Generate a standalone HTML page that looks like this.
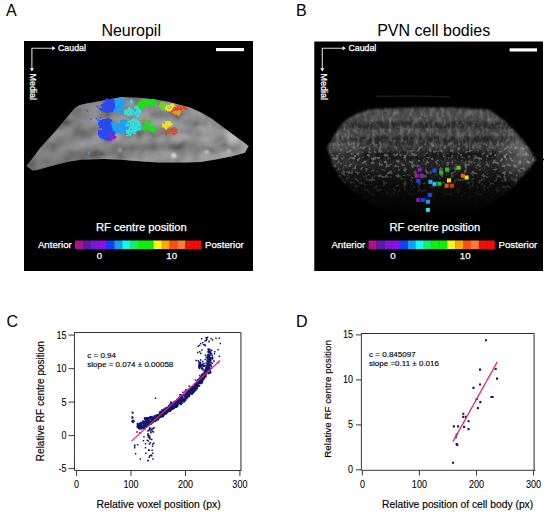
<!DOCTYPE html>
<html><head><meta charset="utf-8"><style>
html,body{margin:0;padding:0;background:#fff;}
body{width:550px;height:517px;overflow:hidden;}
svg{display:block;font-family:"Liberation Sans", sans-serif;}
.pl text{stroke:#000;stroke-width:0.15px;}
text[fill="#fff"]{stroke:#fff;stroke-width:0.25px;}
</style></head><body>
<svg width="550" height="517" viewBox="0 0 550 517">
<defs><clipPath id="cA"><polygon points="26.6,166.1 32.7,170.5 37.1,170.0 53.1,165.4 67.6,161.7 82.2,159.5 104.0,159.1 118.9,159.5 136.4,161.0 158.2,162.5 176.0,162.6 185.3,162.6 200.5,161.9 215.8,159.6 231.0,156.5 244.8,152.7 248.6,146.0 242.0,141.0 235.7,136.6 223.5,127.5 211.2,118.3 200.5,112.2 190.0,107.5 168.2,101.7 153.6,99.3 139.1,97.8 121.6,96.9 98.2,101.6 86.5,103.4 79.3,105.3 74.9,108.2 69.1,114.7 54.5,132.2 40.0,148.2"/></clipPath><clipPath id="cB"><polygon points="327.0,148.0 335.0,134.0 342.0,123.0 354.0,115.0 370.0,109.0 410.0,107.0 450.0,107.0 489.0,109.5 506.0,122.0 522.0,139.0 536.5,159.5 522.0,177.0 510.0,191.0 496.6,200.0 478.0,211.5 460.0,214.0 430.0,215.0 396.0,212.0 376.7,207.6 363.6,198.9 341.8,181.4 332.0,163.0"/></clipPath><filter id="bl3" x="-20%" y="-20%" width="140%" height="140%"><feGaussianBlur stdDeviation="3"/></filter><filter id="bl1" x="-50%" y="-50%" width="200%" height="200%"><feGaussianBlur stdDeviation="1.2"/></filter><filter id="bl2" x="-10%" y="-10%" width="120%" height="120%"><feGaussianBlur stdDeviation="0.9"/></filter><mask id="mB" maskUnits="userSpaceOnUse" x="314" y="41" width="229" height="230"><polygon points="327.0,148.0 335.0,134.0 342.0,123.0 354.0,115.0 370.0,109.0 410.0,107.0 450.0,107.0 489.0,109.5 506.0,122.0 522.0,139.0 536.5,159.5 522.0,177.0 510.0,191.0 496.6,200.0 478.0,211.5 460.0,214.0 430.0,215.0 396.0,212.0 376.7,207.6 363.6,198.9 341.8,181.4 332.0,163.0" fill="#fff" filter="url(#bl2)"/></mask><filter id="nA" x="0" y="0" width="100%" height="100%"><feTurbulence type="fractalNoise" baseFrequency="0.07 0.1" numOctaves="2" seed="3"/><feColorMatrix type="matrix" values="1.6 0 0 0 -0.32  1.6 0 0 0 -0.32  1.6 0 0 0 -0.32  0 0 0 0 1"/><feGaussianBlur stdDeviation="0.8"/></filter><filter id="nB" x="0" y="0" width="100%" height="100%"><feTurbulence type="fractalNoise" baseFrequency="0.25 0.12" numOctaves="2" seed="5"/><feColorMatrix type="matrix" values="0 0 0 0 1  0 0 0 0 1  0 0 0 0 1  2.6 0 0 0 -1.1"/></filter><filter id="nC" x="0" y="0" width="100%" height="100%"><feTurbulence type="fractalNoise" baseFrequency="0.28" numOctaves="2" seed="11"/><feColorMatrix type="matrix" values="0 0 0 0 1  0 0 0 0 1  0 0 0 0 1  6 0 0 0 -3.2"/><feGaussianBlur stdDeviation="0.7"/></filter><linearGradient id="gAx" x1="26" y1="0" x2="250" y2="0" gradientUnits="userSpaceOnUse"><stop offset="0" stop-color="#000" stop-opacity="0.18"/><stop offset="0.35" stop-color="#000" stop-opacity="0.05"/><stop offset="0.8" stop-color="#000" stop-opacity="0"/><stop offset="0.92" stop-color="#fff" stop-opacity="0.06"/></linearGradient><linearGradient id="gA" x1="0" y1="96" x2="0" y2="172" gradientUnits="userSpaceOnUse">
<stop offset="0" stop-color="#8a8a8a"/><stop offset="0.2" stop-color="#7e7e7e"/><stop offset="0.3" stop-color="#9a9a9a"/><stop offset="0.42" stop-color="#858585"/><stop offset="0.55" stop-color="#7a7a7a"/><stop offset="0.63" stop-color="#999"/><stop offset="0.75" stop-color="#828282"/><stop offset="0.88" stop-color="#8e8e8e"/><stop offset="1" stop-color="#909090"/></linearGradient><linearGradient id="gB" x1="0" y1="106" x2="0" y2="216" gradientUnits="userSpaceOnUse"><stop offset="0.000" stop-color="#1c1c1c"/><stop offset="0.027" stop-color="#3a3a3a"/><stop offset="0.064" stop-color="#484848"/><stop offset="0.127" stop-color="#454545"/><stop offset="0.155" stop-color="#2c2c2c"/><stop offset="0.191" stop-color="#2a2a2a"/><stop offset="0.218" stop-color="#424242"/><stop offset="0.264" stop-color="#404040"/><stop offset="0.291" stop-color="#262626"/><stop offset="0.327" stop-color="#2a2a2a"/><stop offset="0.364" stop-color="#363636"/><stop offset="0.400" stop-color="#2c2c2c"/><stop offset="0.436" stop-color="#161616"/><stop offset="0.473" stop-color="#1a1a1a"/><stop offset="0.518" stop-color="#262626"/><stop offset="0.582" stop-color="#1a1a1a"/><stop offset="0.718" stop-color="#0c0c0c"/><stop offset="0.855" stop-color="#060606"/><stop offset="1.000" stop-color="#020202"/></linearGradient><linearGradient id="gFade" x1="0" y1="106" x2="0" y2="216" gradientUnits="userSpaceOnUse"><stop offset="0" stop-color="#fff"/><stop offset="0.4" stop-color="#fff"/><stop offset="0.65" stop-color="#777"/><stop offset="1" stop-color="#000"/></linearGradient>
<mask id="mFade" maskUnits="userSpaceOnUse" x="314" y="95" width="229" height="125"><rect x="314" y="95" width="229" height="125" fill="url(#gFade)"/></mask>
<linearGradient id="gUp" x1="0" y1="106" x2="0" y2="216" gradientUnits="userSpaceOnUse"><stop offset="0" stop-color="#fff"/><stop offset="0.35" stop-color="#fff"/><stop offset="0.5" stop-color="#444"/><stop offset="0.7" stop-color="#000"/></linearGradient>
<mask id="mUp" maskUnits="userSpaceOnUse" x="314" y="95" width="229" height="125"><rect x="314" y="95" width="229" height="125" fill="url(#gUp)"/></mask>
<linearGradient id="gCell" x1="0" y1="106" x2="0" y2="216" gradientUnits="userSpaceOnUse"><stop offset="0" stop-color="#333"/><stop offset="0.3" stop-color="#666"/><stop offset="0.45" stop-color="#fff"/><stop offset="0.63" stop-color="#ccc"/><stop offset="0.78" stop-color="#333"/><stop offset="0.9" stop-color="#000"/></linearGradient>
<mask id="mCell" maskUnits="userSpaceOnUse" x="314" y="95" width="229" height="125"><rect x="314" y="95" width="229" height="125" fill="url(#gCell)"/></mask><radialGradient id="gBr" cx="522" cy="155" r="30" gradientUnits="userSpaceOnUse"><stop offset="0" stop-color="#fff" stop-opacity="0.28"/><stop offset="0.6" stop-color="#fff" stop-opacity="0.12"/><stop offset="1" stop-color="#fff" stop-opacity="0"/></radialGradient><radialGradient id="gBl" cx="342" cy="150" r="26" gradientUnits="userSpaceOnUse"><stop offset="0" stop-color="#fff" stop-opacity="0.12"/><stop offset="1" stop-color="#fff" stop-opacity="0"/></radialGradient></defs><rect x="24" y="41" width="229" height="230" fill="#000"/><rect x="314.3" y="41.5" width="228.7" height="229.5" fill="#000"/><g clip-path="url(#cA)"><rect x="24" y="95" width="229" height="80" fill="#777"/>
<g filter="url(#bl3)" fill="none" stroke-linecap="round">
<path d="M74 108 Q100 103 130 106 T200 110" stroke="#8a8a8a" stroke-width="4"/>
<path d="M36 152 Q58 128 90 122 T160 121 T236 132" stroke="#a8a8a8" stroke-width="4"/>
<path d="M60 136 Q80 130 100 131" stroke="#5e5e5e" stroke-width="4"/>
<path d="M120 131 Q170 130 230 137" stroke="#686868" stroke-width="4"/>
<path d="M40 164 Q66 143 100 139 T170 138 T242 143" stroke="#a4a4a4" stroke-width="4"/>
<path d="M50 170 Q100 151 140 148 T243 150" stroke="#565656" stroke-width="5"/>
<path d="M80 167 Q120 159 170 159 T244 154" stroke="#a4a4a4" stroke-width="4"/>
<path d="M226 134 L246 147" stroke="#b0b0b0" stroke-width="5"/>
</g>
<circle cx="174" cy="155.5" r="2.5" fill="#f4f4f4" filter="url(#bl1)"/>
<circle cx="207" cy="152" r="2" fill="#c8c8c8" filter="url(#bl1)"/>
<circle cx="229" cy="151" r="2" fill="#c0c0c0" filter="url(#bl1)"/>
<circle cx="120" cy="150" r="2" fill="#b0b0b0" filter="url(#bl1)"/>
<rect x="24" y="95" width="229" height="80" fill="#fff" filter="url(#nA)" opacity="0.28"/><rect x="24" y="95" width="229" height="80" fill="url(#gAx)"/></g><path d="M100 105h1.3v1.3h-1.3zM100 108h1.3v1.3h-1.3zM100 109h1.3v1.3h-1.3zM101 104h1.3v1.3h-1.3zM101 105h1.3v1.3h-1.3zM101 108h1.3v1.3h-1.3zM101 109h1.3v1.3h-1.3zM101 110h1.3v1.3h-1.3zM102 104h1.3v1.3h-1.3zM102 105h1.3v1.3h-1.3zM102 106h1.3v1.3h-1.3zM102 107h1.3v1.3h-1.3zM102 108h1.3v1.3h-1.3zM102 109h1.3v1.3h-1.3zM102 110h1.3v1.3h-1.3zM103 102h1.3v1.3h-1.3zM103 103h1.3v1.3h-1.3zM103 104h1.3v1.3h-1.3zM103 105h1.3v1.3h-1.3zM103 106h1.3v1.3h-1.3zM103 107h1.3v1.3h-1.3zM103 109h1.3v1.3h-1.3zM103 110h1.3v1.3h-1.3zM103 111h1.3v1.3h-1.3zM104 102h1.3v1.3h-1.3zM104 103h1.3v1.3h-1.3zM104 104h1.3v1.3h-1.3zM104 105h1.3v1.3h-1.3zM104 106h1.3v1.3h-1.3zM104 107h1.3v1.3h-1.3zM104 108h1.3v1.3h-1.3zM104 109h1.3v1.3h-1.3zM104 110h1.3v1.3h-1.3zM104 111h1.3v1.3h-1.3zM105 99h1.3v1.3h-1.3zM105 100h1.3v1.3h-1.3zM105 101h1.3v1.3h-1.3zM105 102h1.3v1.3h-1.3zM105 103h1.3v1.3h-1.3zM105 104h1.3v1.3h-1.3zM105 105h1.3v1.3h-1.3zM105 106h1.3v1.3h-1.3zM105 107h1.3v1.3h-1.3zM105 108h1.3v1.3h-1.3zM105 109h1.3v1.3h-1.3zM105 110h1.3v1.3h-1.3zM105 111h1.3v1.3h-1.3zM106 98h1.3v1.3h-1.3zM106 99h1.3v1.3h-1.3zM106 100h1.3v1.3h-1.3zM106 101h1.3v1.3h-1.3zM106 102h1.3v1.3h-1.3zM106 103h1.3v1.3h-1.3zM106 104h1.3v1.3h-1.3zM106 105h1.3v1.3h-1.3zM106 106h1.3v1.3h-1.3zM106 107h1.3v1.3h-1.3zM106 108h1.3v1.3h-1.3zM106 109h1.3v1.3h-1.3zM106 110h1.3v1.3h-1.3zM106 111h1.3v1.3h-1.3zM107 99h1.3v1.3h-1.3zM107 100h1.3v1.3h-1.3zM107 101h1.3v1.3h-1.3zM107 102h1.3v1.3h-1.3zM107 103h1.3v1.3h-1.3zM107 104h1.3v1.3h-1.3zM107 105h1.3v1.3h-1.3zM107 106h1.3v1.3h-1.3zM107 107h1.3v1.3h-1.3zM107 108h1.3v1.3h-1.3zM107 109h1.3v1.3h-1.3zM107 110h1.3v1.3h-1.3zM107 111h1.3v1.3h-1.3zM107 112h1.3v1.3h-1.3zM108 99h1.3v1.3h-1.3zM108 100h1.3v1.3h-1.3zM108 101h1.3v1.3h-1.3zM108 102h1.3v1.3h-1.3zM108 103h1.3v1.3h-1.3zM108 104h1.3v1.3h-1.3zM108 105h1.3v1.3h-1.3zM108 106h1.3v1.3h-1.3zM108 107h1.3v1.3h-1.3zM108 108h1.3v1.3h-1.3zM108 109h1.3v1.3h-1.3zM108 110h1.3v1.3h-1.3zM108 111h1.3v1.3h-1.3zM109 99h1.3v1.3h-1.3zM109 100h1.3v1.3h-1.3zM109 101h1.3v1.3h-1.3zM109 102h1.3v1.3h-1.3zM109 103h1.3v1.3h-1.3zM109 104h1.3v1.3h-1.3zM109 105h1.3v1.3h-1.3zM109 106h1.3v1.3h-1.3zM109 107h1.3v1.3h-1.3zM109 108h1.3v1.3h-1.3zM109 109h1.3v1.3h-1.3zM109 110h1.3v1.3h-1.3zM109 111h1.3v1.3h-1.3zM110 99h1.3v1.3h-1.3zM110 100h1.3v1.3h-1.3zM110 101h1.3v1.3h-1.3zM110 102h1.3v1.3h-1.3zM110 103h1.3v1.3h-1.3zM110 104h1.3v1.3h-1.3zM110 105h1.3v1.3h-1.3zM110 106h1.3v1.3h-1.3zM110 107h1.3v1.3h-1.3zM110 108h1.3v1.3h-1.3zM110 109h1.3v1.3h-1.3zM110 110h1.3v1.3h-1.3zM110 111h1.3v1.3h-1.3zM111 99h1.3v1.3h-1.3zM111 100h1.3v1.3h-1.3zM111 101h1.3v1.3h-1.3zM111 102h1.3v1.3h-1.3zM111 103h1.3v1.3h-1.3zM111 104h1.3v1.3h-1.3zM111 105h1.3v1.3h-1.3zM111 106h1.3v1.3h-1.3zM111 107h1.3v1.3h-1.3zM111 108h1.3v1.3h-1.3zM111 109h1.3v1.3h-1.3zM111 110h1.3v1.3h-1.3zM111 111h1.3v1.3h-1.3zM112 99h1.3v1.3h-1.3zM112 100h1.3v1.3h-1.3zM112 101h1.3v1.3h-1.3zM112 102h1.3v1.3h-1.3zM112 103h1.3v1.3h-1.3zM112 104h1.3v1.3h-1.3zM112 105h1.3v1.3h-1.3zM112 106h1.3v1.3h-1.3zM112 107h1.3v1.3h-1.3zM112 108h1.3v1.3h-1.3zM112 109h1.3v1.3h-1.3zM112 110h1.3v1.3h-1.3zM112 111h1.3v1.3h-1.3zM113 100h1.3v1.3h-1.3zM113 101h1.3v1.3h-1.3zM113 102h1.3v1.3h-1.3zM113 103h1.3v1.3h-1.3zM113 104h1.3v1.3h-1.3zM113 105h1.3v1.3h-1.3zM113 106h1.3v1.3h-1.3zM113 107h1.3v1.3h-1.3zM113 108h1.3v1.3h-1.3zM113 109h1.3v1.3h-1.3zM114 100h1.3v1.3h-1.3zM114 101h1.3v1.3h-1.3zM114 102h1.3v1.3h-1.3zM114 103h1.3v1.3h-1.3zM114 104h1.3v1.3h-1.3zM114 105h1.3v1.3h-1.3zM114 106h1.3v1.3h-1.3zM114 107h1.3v1.3h-1.3zM114 108h1.3v1.3h-1.3zM114 109h1.3v1.3h-1.3zM114 110h1.3v1.3h-1.3zM115 100h1.3v1.3h-1.3zM115 101h1.3v1.3h-1.3zM115 102h1.3v1.3h-1.3zM115 103h1.3v1.3h-1.3zM115 104h1.3v1.3h-1.3zM115 105h1.3v1.3h-1.3zM115 106h1.3v1.3h-1.3zM115 107h1.3v1.3h-1.3zM115 108h1.3v1.3h-1.3zM115 109h1.3v1.3h-1.3zM116 101h1.3v1.3h-1.3zM116 102h1.3v1.3h-1.3zM116 103h1.3v1.3h-1.3zM116 104h1.3v1.3h-1.3zM116 105h1.3v1.3h-1.3zM116 106h1.3v1.3h-1.3zM116 107h1.3v1.3h-1.3zM116 108h1.3v1.3h-1.3zM117 102h1.3v1.3h-1.3zM117 103h1.3v1.3h-1.3zM117 104h1.3v1.3h-1.3zM117 105h1.3v1.3h-1.3zM117 106h1.3v1.3h-1.3zM118 105h1.3v1.3h-1.3zM118 106h1.3v1.3h-1.3z" fill="#2848f0"/><rect x="96.7" y="105.7" width="1.6" height="1.6" fill="#2848f0"/><rect x="98.7" y="107.7" width="1.6" height="1.6" fill="#2848f0"/><path d="M114 101h1.3v1.3h-1.3zM114 109h1.3v1.3h-1.3zM114 110h1.3v1.3h-1.3zM115 98h1.3v1.3h-1.3zM115 100h1.3v1.3h-1.3zM115 101h1.3v1.3h-1.3zM115 102h1.3v1.3h-1.3zM115 103h1.3v1.3h-1.3zM115 104h1.3v1.3h-1.3zM115 105h1.3v1.3h-1.3zM115 106h1.3v1.3h-1.3zM115 108h1.3v1.3h-1.3zM115 109h1.3v1.3h-1.3zM115 110h1.3v1.3h-1.3zM115 111h1.3v1.3h-1.3zM116 98h1.3v1.3h-1.3zM116 99h1.3v1.3h-1.3zM116 100h1.3v1.3h-1.3zM116 101h1.3v1.3h-1.3zM116 102h1.3v1.3h-1.3zM116 103h1.3v1.3h-1.3zM116 104h1.3v1.3h-1.3zM116 105h1.3v1.3h-1.3zM116 106h1.3v1.3h-1.3zM116 107h1.3v1.3h-1.3zM116 108h1.3v1.3h-1.3zM116 109h1.3v1.3h-1.3zM116 110h1.3v1.3h-1.3zM116 111h1.3v1.3h-1.3zM116 112h1.3v1.3h-1.3zM117 98h1.3v1.3h-1.3zM117 99h1.3v1.3h-1.3zM117 102h1.3v1.3h-1.3zM117 103h1.3v1.3h-1.3zM117 104h1.3v1.3h-1.3zM117 105h1.3v1.3h-1.3zM117 106h1.3v1.3h-1.3zM117 108h1.3v1.3h-1.3zM117 109h1.3v1.3h-1.3zM117 110h1.3v1.3h-1.3zM117 111h1.3v1.3h-1.3zM117 112h1.3v1.3h-1.3zM118 100h1.3v1.3h-1.3zM118 102h1.3v1.3h-1.3zM118 103h1.3v1.3h-1.3zM118 104h1.3v1.3h-1.3zM118 105h1.3v1.3h-1.3zM118 108h1.3v1.3h-1.3zM118 109h1.3v1.3h-1.3zM118 110h1.3v1.3h-1.3zM118 111h1.3v1.3h-1.3zM118 112h1.3v1.3h-1.3zM119 99h1.3v1.3h-1.3zM119 100h1.3v1.3h-1.3zM119 102h1.3v1.3h-1.3zM119 103h1.3v1.3h-1.3zM119 104h1.3v1.3h-1.3zM119 105h1.3v1.3h-1.3zM119 106h1.3v1.3h-1.3zM119 107h1.3v1.3h-1.3zM119 108h1.3v1.3h-1.3zM119 109h1.3v1.3h-1.3zM119 110h1.3v1.3h-1.3zM119 111h1.3v1.3h-1.3zM119 112h1.3v1.3h-1.3zM120 98h1.3v1.3h-1.3zM120 99h1.3v1.3h-1.3zM120 100h1.3v1.3h-1.3zM120 101h1.3v1.3h-1.3zM120 102h1.3v1.3h-1.3zM120 103h1.3v1.3h-1.3zM120 104h1.3v1.3h-1.3zM120 105h1.3v1.3h-1.3zM120 106h1.3v1.3h-1.3zM120 107h1.3v1.3h-1.3zM120 109h1.3v1.3h-1.3zM120 110h1.3v1.3h-1.3zM120 111h1.3v1.3h-1.3zM120 112h1.3v1.3h-1.3zM121 98h1.3v1.3h-1.3zM121 100h1.3v1.3h-1.3zM121 101h1.3v1.3h-1.3zM121 102h1.3v1.3h-1.3zM121 103h1.3v1.3h-1.3zM121 104h1.3v1.3h-1.3zM121 106h1.3v1.3h-1.3zM121 107h1.3v1.3h-1.3zM121 108h1.3v1.3h-1.3zM121 109h1.3v1.3h-1.3zM121 110h1.3v1.3h-1.3zM121 111h1.3v1.3h-1.3zM122 98h1.3v1.3h-1.3zM122 100h1.3v1.3h-1.3zM122 101h1.3v1.3h-1.3zM122 102h1.3v1.3h-1.3zM122 103h1.3v1.3h-1.3zM122 104h1.3v1.3h-1.3zM122 105h1.3v1.3h-1.3zM122 106h1.3v1.3h-1.3zM122 107h1.3v1.3h-1.3zM122 109h1.3v1.3h-1.3zM122 110h1.3v1.3h-1.3zM122 111h1.3v1.3h-1.3zM123 99h1.3v1.3h-1.3zM123 100h1.3v1.3h-1.3zM123 101h1.3v1.3h-1.3zM123 102h1.3v1.3h-1.3zM123 103h1.3v1.3h-1.3zM123 104h1.3v1.3h-1.3zM123 105h1.3v1.3h-1.3zM123 107h1.3v1.3h-1.3zM123 108h1.3v1.3h-1.3zM123 110h1.3v1.3h-1.3zM124 101h1.3v1.3h-1.3zM124 102h1.3v1.3h-1.3zM124 103h1.3v1.3h-1.3zM124 104h1.3v1.3h-1.3z" fill="#20a0f0"/><path d="M124 110h1.3v1.3h-1.3zM124 111h1.3v1.3h-1.3zM124 112h1.3v1.3h-1.3zM124 113h1.3v1.3h-1.3zM125 109h1.3v1.3h-1.3zM125 110h1.3v1.3h-1.3zM125 111h1.3v1.3h-1.3zM125 112h1.3v1.3h-1.3zM125 113h1.3v1.3h-1.3zM125 114h1.3v1.3h-1.3zM126 109h1.3v1.3h-1.3zM126 111h1.3v1.3h-1.3zM126 112h1.3v1.3h-1.3zM126 113h1.3v1.3h-1.3zM126 114h1.3v1.3h-1.3zM127 110h1.3v1.3h-1.3zM127 111h1.3v1.3h-1.3zM127 112h1.3v1.3h-1.3zM127 113h1.3v1.3h-1.3zM127 114h1.3v1.3h-1.3zM127 115h1.3v1.3h-1.3zM128 107h1.3v1.3h-1.3zM128 108h1.3v1.3h-1.3zM128 109h1.3v1.3h-1.3zM128 110h1.3v1.3h-1.3zM128 111h1.3v1.3h-1.3zM128 113h1.3v1.3h-1.3zM128 114h1.3v1.3h-1.3zM128 115h1.3v1.3h-1.3zM129 107h1.3v1.3h-1.3zM129 108h1.3v1.3h-1.3zM129 109h1.3v1.3h-1.3zM129 110h1.3v1.3h-1.3zM129 111h1.3v1.3h-1.3zM129 112h1.3v1.3h-1.3zM129 113h1.3v1.3h-1.3zM129 114h1.3v1.3h-1.3zM129 115h1.3v1.3h-1.3zM130 109h1.3v1.3h-1.3zM130 110h1.3v1.3h-1.3zM130 111h1.3v1.3h-1.3zM130 112h1.3v1.3h-1.3zM130 113h1.3v1.3h-1.3zM130 114h1.3v1.3h-1.3zM131 108h1.3v1.3h-1.3zM131 109h1.3v1.3h-1.3zM131 110h1.3v1.3h-1.3zM131 111h1.3v1.3h-1.3zM131 112h1.3v1.3h-1.3zM131 113h1.3v1.3h-1.3zM131 114h1.3v1.3h-1.3zM131 115h1.3v1.3h-1.3zM132 110h1.3v1.3h-1.3zM132 111h1.3v1.3h-1.3zM132 113h1.3v1.3h-1.3zM132 114h1.3v1.3h-1.3zM133 111h1.3v1.3h-1.3zM133 112h1.3v1.3h-1.3zM133 114h1.3v1.3h-1.3zM134 107h1.3v1.3h-1.3zM134 108h1.3v1.3h-1.3zM134 112h1.3v1.3h-1.3zM134 113h1.3v1.3h-1.3zM135 106h1.3v1.3h-1.3zM135 107h1.3v1.3h-1.3zM135 112h1.3v1.3h-1.3zM135 113h1.3v1.3h-1.3zM135 114h1.3v1.3h-1.3zM136 106h1.3v1.3h-1.3zM136 107h1.3v1.3h-1.3zM136 108h1.3v1.3h-1.3zM136 110h1.3v1.3h-1.3zM136 111h1.3v1.3h-1.3zM136 114h1.3v1.3h-1.3zM136 116h1.3v1.3h-1.3zM137 105h1.3v1.3h-1.3zM137 106h1.3v1.3h-1.3zM137 107h1.3v1.3h-1.3zM137 108h1.3v1.3h-1.3zM137 109h1.3v1.3h-1.3zM137 110h1.3v1.3h-1.3zM137 111h1.3v1.3h-1.3zM137 112h1.3v1.3h-1.3zM137 115h1.3v1.3h-1.3zM137 116h1.3v1.3h-1.3zM138 105h1.3v1.3h-1.3zM138 106h1.3v1.3h-1.3zM138 107h1.3v1.3h-1.3zM138 108h1.3v1.3h-1.3zM138 110h1.3v1.3h-1.3zM138 111h1.3v1.3h-1.3zM138 112h1.3v1.3h-1.3zM138 114h1.3v1.3h-1.3zM138 115h1.3v1.3h-1.3zM138 116h1.3v1.3h-1.3zM139 106h1.3v1.3h-1.3zM139 107h1.3v1.3h-1.3zM139 109h1.3v1.3h-1.3zM139 110h1.3v1.3h-1.3zM139 111h1.3v1.3h-1.3zM139 112h1.3v1.3h-1.3zM139 113h1.3v1.3h-1.3zM140 107h1.3v1.3h-1.3zM140 108h1.3v1.3h-1.3zM140 109h1.3v1.3h-1.3zM140 110h1.3v1.3h-1.3zM140 111h1.3v1.3h-1.3zM140 112h1.3v1.3h-1.3zM140 113h1.3v1.3h-1.3z" fill="#30e0e0"/><path d="M130 100h1.3v1.3h-1.3zM130 101h1.3v1.3h-1.3zM130 102h1.3v1.3h-1.3zM131 99h1.3v1.3h-1.3zM131 100h1.3v1.3h-1.3zM131 101h1.3v1.3h-1.3zM131 102h1.3v1.3h-1.3zM132 101h1.3v1.3h-1.3zM132 102h1.3v1.3h-1.3z" fill="#30e0e0"/><path d="M138 102h1.3v1.3h-1.3zM138 103h1.3v1.3h-1.3zM138 104h1.3v1.3h-1.3zM138 105h1.3v1.3h-1.3zM138 106h1.3v1.3h-1.3zM139 102h1.3v1.3h-1.3zM139 103h1.3v1.3h-1.3zM139 104h1.3v1.3h-1.3zM139 105h1.3v1.3h-1.3zM139 106h1.3v1.3h-1.3zM139 107h1.3v1.3h-1.3zM140 101h1.3v1.3h-1.3zM140 102h1.3v1.3h-1.3zM140 103h1.3v1.3h-1.3zM140 104h1.3v1.3h-1.3zM140 105h1.3v1.3h-1.3zM140 106h1.3v1.3h-1.3zM140 107h1.3v1.3h-1.3zM140 108h1.3v1.3h-1.3zM141 100h1.3v1.3h-1.3zM141 101h1.3v1.3h-1.3zM141 102h1.3v1.3h-1.3zM141 103h1.3v1.3h-1.3zM141 104h1.3v1.3h-1.3zM141 105h1.3v1.3h-1.3zM141 106h1.3v1.3h-1.3zM141 107h1.3v1.3h-1.3zM141 108h1.3v1.3h-1.3zM142 100h1.3v1.3h-1.3zM142 101h1.3v1.3h-1.3zM142 102h1.3v1.3h-1.3zM142 103h1.3v1.3h-1.3zM142 104h1.3v1.3h-1.3zM142 105h1.3v1.3h-1.3zM142 106h1.3v1.3h-1.3zM143 100h1.3v1.3h-1.3zM143 101h1.3v1.3h-1.3zM143 102h1.3v1.3h-1.3zM143 103h1.3v1.3h-1.3zM143 104h1.3v1.3h-1.3zM143 105h1.3v1.3h-1.3zM143 106h1.3v1.3h-1.3zM144 100h1.3v1.3h-1.3zM144 101h1.3v1.3h-1.3zM144 102h1.3v1.3h-1.3zM144 103h1.3v1.3h-1.3zM144 104h1.3v1.3h-1.3zM144 105h1.3v1.3h-1.3zM144 106h1.3v1.3h-1.3zM145 100h1.3v1.3h-1.3zM145 101h1.3v1.3h-1.3zM145 102h1.3v1.3h-1.3zM145 103h1.3v1.3h-1.3zM145 104h1.3v1.3h-1.3zM146 100h1.3v1.3h-1.3zM146 101h1.3v1.3h-1.3zM146 102h1.3v1.3h-1.3zM146 103h1.3v1.3h-1.3zM146 104h1.3v1.3h-1.3zM146 105h1.3v1.3h-1.3zM147 99h1.3v1.3h-1.3zM147 101h1.3v1.3h-1.3zM147 102h1.3v1.3h-1.3zM147 104h1.3v1.3h-1.3zM147 105h1.3v1.3h-1.3zM148 99h1.3v1.3h-1.3zM148 100h1.3v1.3h-1.3zM148 101h1.3v1.3h-1.3zM148 102h1.3v1.3h-1.3zM148 103h1.3v1.3h-1.3zM148 104h1.3v1.3h-1.3zM148 105h1.3v1.3h-1.3zM149 100h1.3v1.3h-1.3zM149 101h1.3v1.3h-1.3zM149 102h1.3v1.3h-1.3zM149 103h1.3v1.3h-1.3zM149 105h1.3v1.3h-1.3zM150 100h1.3v1.3h-1.3zM150 101h1.3v1.3h-1.3zM150 102h1.3v1.3h-1.3zM150 103h1.3v1.3h-1.3zM150 104h1.3v1.3h-1.3zM150 105h1.3v1.3h-1.3zM151 100h1.3v1.3h-1.3zM151 101h1.3v1.3h-1.3zM151 102h1.3v1.3h-1.3zM151 103h1.3v1.3h-1.3zM151 104h1.3v1.3h-1.3zM151 105h1.3v1.3h-1.3zM152 99h1.3v1.3h-1.3zM152 100h1.3v1.3h-1.3zM152 101h1.3v1.3h-1.3zM152 102h1.3v1.3h-1.3zM152 103h1.3v1.3h-1.3zM152 104h1.3v1.3h-1.3zM152 105h1.3v1.3h-1.3zM153 99h1.3v1.3h-1.3zM153 100h1.3v1.3h-1.3zM153 101h1.3v1.3h-1.3zM153 102h1.3v1.3h-1.3zM153 103h1.3v1.3h-1.3zM153 104h1.3v1.3h-1.3zM153 105h1.3v1.3h-1.3zM154 99h1.3v1.3h-1.3zM154 100h1.3v1.3h-1.3zM154 101h1.3v1.3h-1.3zM154 102h1.3v1.3h-1.3zM154 103h1.3v1.3h-1.3zM154 104h1.3v1.3h-1.3zM155 101h1.3v1.3h-1.3zM155 102h1.3v1.3h-1.3zM155 103h1.3v1.3h-1.3zM155 104h1.3v1.3h-1.3zM156 102h1.3v1.3h-1.3zM156 103h1.3v1.3h-1.3zM156 104h1.3v1.3h-1.3zM157 103h1.3v1.3h-1.3z" fill="#18e018"/><path d="M159 105h1.3v1.3h-1.3zM159 106h1.3v1.3h-1.3zM160 103h1.3v1.3h-1.3zM160 104h1.3v1.3h-1.3zM160 105h1.3v1.3h-1.3zM160 106h1.3v1.3h-1.3zM160 107h1.3v1.3h-1.3zM161 102h1.3v1.3h-1.3zM161 103h1.3v1.3h-1.3zM161 104h1.3v1.3h-1.3zM161 106h1.3v1.3h-1.3zM161 107h1.3v1.3h-1.3zM161 108h1.3v1.3h-1.3zM161 109h1.3v1.3h-1.3zM162 102h1.3v1.3h-1.3zM162 103h1.3v1.3h-1.3zM162 104h1.3v1.3h-1.3zM162 105h1.3v1.3h-1.3zM162 107h1.3v1.3h-1.3zM162 108h1.3v1.3h-1.3zM162 109h1.3v1.3h-1.3zM163 105h1.3v1.3h-1.3zM163 106h1.3v1.3h-1.3zM163 107h1.3v1.3h-1.3zM163 108h1.3v1.3h-1.3zM163 109h1.3v1.3h-1.3zM164 103h1.3v1.3h-1.3zM164 104h1.3v1.3h-1.3zM164 105h1.3v1.3h-1.3zM164 106h1.3v1.3h-1.3zM164 107h1.3v1.3h-1.3zM164 108h1.3v1.3h-1.3zM164 109h1.3v1.3h-1.3zM165 105h1.3v1.3h-1.3zM165 106h1.3v1.3h-1.3zM165 107h1.3v1.3h-1.3zM166 105h1.3v1.3h-1.3zM166 106h1.3v1.3h-1.3zM166 107h1.3v1.3h-1.3z" fill="#60e010"/><path d="M165 107h1.3v1.3h-1.3zM165 108h1.3v1.3h-1.3zM165 109h1.3v1.3h-1.3zM166 105h1.3v1.3h-1.3zM166 106h1.3v1.3h-1.3zM166 107h1.3v1.3h-1.3zM166 108h1.3v1.3h-1.3zM166 109h1.3v1.3h-1.3zM167 105h1.3v1.3h-1.3zM167 106h1.3v1.3h-1.3zM167 108h1.3v1.3h-1.3zM167 109h1.3v1.3h-1.3zM167 110h1.3v1.3h-1.3zM168 105h1.3v1.3h-1.3zM168 106h1.3v1.3h-1.3zM168 107h1.3v1.3h-1.3zM168 109h1.3v1.3h-1.3zM168 110h1.3v1.3h-1.3zM169 105h1.3v1.3h-1.3zM169 107h1.3v1.3h-1.3zM169 109h1.3v1.3h-1.3zM169 110h1.3v1.3h-1.3zM170 104h1.3v1.3h-1.3zM170 105h1.3v1.3h-1.3zM170 107h1.3v1.3h-1.3zM170 108h1.3v1.3h-1.3zM170 109h1.3v1.3h-1.3zM170 110h1.3v1.3h-1.3zM171 104h1.3v1.3h-1.3zM171 105h1.3v1.3h-1.3zM171 106h1.3v1.3h-1.3zM171 108h1.3v1.3h-1.3zM171 109h1.3v1.3h-1.3zM172 103h1.3v1.3h-1.3zM172 104h1.3v1.3h-1.3zM172 105h1.3v1.3h-1.3zM172 106h1.3v1.3h-1.3zM172 107h1.3v1.3h-1.3zM172 108h1.3v1.3h-1.3zM172 109h1.3v1.3h-1.3zM173 104h1.3v1.3h-1.3zM173 105h1.3v1.3h-1.3zM173 106h1.3v1.3h-1.3zM173 108h1.3v1.3h-1.3zM174 105h1.3v1.3h-1.3z" fill="#f0e020"/><path d="M172 109h1.3v1.3h-1.3zM172 110h1.3v1.3h-1.3zM172 111h1.3v1.3h-1.3zM173 108h1.3v1.3h-1.3zM173 109h1.3v1.3h-1.3zM173 110h1.3v1.3h-1.3zM173 111h1.3v1.3h-1.3zM174 107h1.3v1.3h-1.3zM174 110h1.3v1.3h-1.3zM175 107h1.3v1.3h-1.3zM175 108h1.3v1.3h-1.3zM175 109h1.3v1.3h-1.3zM175 111h1.3v1.3h-1.3zM175 112h1.3v1.3h-1.3zM176 108h1.3v1.3h-1.3zM176 109h1.3v1.3h-1.3zM177 106h1.3v1.3h-1.3zM177 107h1.3v1.3h-1.3zM177 108h1.3v1.3h-1.3zM177 110h1.3v1.3h-1.3zM177 111h1.3v1.3h-1.3zM178 106h1.3v1.3h-1.3zM178 108h1.3v1.3h-1.3zM178 109h1.3v1.3h-1.3zM178 110h1.3v1.3h-1.3zM178 111h1.3v1.3h-1.3zM179 105h1.3v1.3h-1.3zM179 109h1.3v1.3h-1.3zM179 110h1.3v1.3h-1.3zM180 106h1.3v1.3h-1.3zM180 107h1.3v1.3h-1.3zM180 108h1.3v1.3h-1.3zM180 109h1.3v1.3h-1.3zM181 106h1.3v1.3h-1.3zM181 108h1.3v1.3h-1.3zM182 108h1.3v1.3h-1.3zM183 106h1.3v1.3h-1.3zM183 107h1.3v1.3h-1.3zM184 106h1.3v1.3h-1.3zM184 107h1.3v1.3h-1.3zM184 108h1.3v1.3h-1.3zM185 107h1.3v1.3h-1.3zM185 108h1.3v1.3h-1.3zM186 108h1.3v1.3h-1.3zM186 109h1.3v1.3h-1.3z" fill="#e84018"/><path d="M172 112h1.3v1.3h-1.3zM173 111h1.3v1.3h-1.3zM173 112h1.3v1.3h-1.3zM174 111h1.3v1.3h-1.3zM174 112h1.3v1.3h-1.3zM174 113h1.3v1.3h-1.3zM175 111h1.3v1.3h-1.3zM175 112h1.3v1.3h-1.3zM175 113h1.3v1.3h-1.3zM176 111h1.3v1.3h-1.3zM176 112h1.3v1.3h-1.3zM176 113h1.3v1.3h-1.3zM177 111h1.3v1.3h-1.3zM177 112h1.3v1.3h-1.3zM177 113h1.3v1.3h-1.3zM177 114h1.3v1.3h-1.3zM178 110h1.3v1.3h-1.3zM178 111h1.3v1.3h-1.3zM178 112h1.3v1.3h-1.3zM178 113h1.3v1.3h-1.3zM178 114h1.3v1.3h-1.3zM178 115h1.3v1.3h-1.3zM179 110h1.3v1.3h-1.3zM179 111h1.3v1.3h-1.3zM179 112h1.3v1.3h-1.3zM179 113h1.3v1.3h-1.3zM179 114h1.3v1.3h-1.3zM180 111h1.3v1.3h-1.3zM180 112h1.3v1.3h-1.3z" fill="#f09020"/><rect x="107.7" y="107.7" width="1.6" height="1.6" fill="#9020c8"/><path d="M98 122h1.3v1.3h-1.3zM98 123h1.3v1.3h-1.3zM98 124h1.3v1.3h-1.3zM98 130h1.3v1.3h-1.3zM98 131h1.3v1.3h-1.3zM98 132h1.3v1.3h-1.3zM98 133h1.3v1.3h-1.3zM98 134h1.3v1.3h-1.3zM99 121h1.3v1.3h-1.3zM99 122h1.3v1.3h-1.3zM99 123h1.3v1.3h-1.3zM99 124h1.3v1.3h-1.3zM99 125h1.3v1.3h-1.3zM99 127h1.3v1.3h-1.3zM99 130h1.3v1.3h-1.3zM99 131h1.3v1.3h-1.3zM99 132h1.3v1.3h-1.3zM99 133h1.3v1.3h-1.3zM99 134h1.3v1.3h-1.3zM99 135h1.3v1.3h-1.3zM99 136h1.3v1.3h-1.3zM100 120h1.3v1.3h-1.3zM100 121h1.3v1.3h-1.3zM100 122h1.3v1.3h-1.3zM100 123h1.3v1.3h-1.3zM100 124h1.3v1.3h-1.3zM100 125h1.3v1.3h-1.3zM100 126h1.3v1.3h-1.3zM100 127h1.3v1.3h-1.3zM100 130h1.3v1.3h-1.3zM100 131h1.3v1.3h-1.3zM100 132h1.3v1.3h-1.3zM100 133h1.3v1.3h-1.3zM100 134h1.3v1.3h-1.3zM100 135h1.3v1.3h-1.3zM100 136h1.3v1.3h-1.3zM100 137h1.3v1.3h-1.3zM101 120h1.3v1.3h-1.3zM101 121h1.3v1.3h-1.3zM101 122h1.3v1.3h-1.3zM101 123h1.3v1.3h-1.3zM101 124h1.3v1.3h-1.3zM101 125h1.3v1.3h-1.3zM101 126h1.3v1.3h-1.3zM101 127h1.3v1.3h-1.3zM101 130h1.3v1.3h-1.3zM101 131h1.3v1.3h-1.3zM101 132h1.3v1.3h-1.3zM101 133h1.3v1.3h-1.3zM101 134h1.3v1.3h-1.3zM101 135h1.3v1.3h-1.3zM101 136h1.3v1.3h-1.3zM101 137h1.3v1.3h-1.3zM102 119h1.3v1.3h-1.3zM102 120h1.3v1.3h-1.3zM102 121h1.3v1.3h-1.3zM102 122h1.3v1.3h-1.3zM102 123h1.3v1.3h-1.3zM102 124h1.3v1.3h-1.3zM102 125h1.3v1.3h-1.3zM102 126h1.3v1.3h-1.3zM102 127h1.3v1.3h-1.3zM102 128h1.3v1.3h-1.3zM102 129h1.3v1.3h-1.3zM102 130h1.3v1.3h-1.3zM102 131h1.3v1.3h-1.3zM102 132h1.3v1.3h-1.3zM102 133h1.3v1.3h-1.3zM102 134h1.3v1.3h-1.3zM102 135h1.3v1.3h-1.3zM102 136h1.3v1.3h-1.3zM102 137h1.3v1.3h-1.3zM102 138h1.3v1.3h-1.3zM103 119h1.3v1.3h-1.3zM103 120h1.3v1.3h-1.3zM103 121h1.3v1.3h-1.3zM103 122h1.3v1.3h-1.3zM103 123h1.3v1.3h-1.3zM103 124h1.3v1.3h-1.3zM103 125h1.3v1.3h-1.3zM103 126h1.3v1.3h-1.3zM103 127h1.3v1.3h-1.3zM103 128h1.3v1.3h-1.3zM103 129h1.3v1.3h-1.3zM103 130h1.3v1.3h-1.3zM103 131h1.3v1.3h-1.3zM103 132h1.3v1.3h-1.3zM103 133h1.3v1.3h-1.3zM103 134h1.3v1.3h-1.3zM103 135h1.3v1.3h-1.3zM103 136h1.3v1.3h-1.3zM103 137h1.3v1.3h-1.3zM103 138h1.3v1.3h-1.3zM104 119h1.3v1.3h-1.3zM104 120h1.3v1.3h-1.3zM104 121h1.3v1.3h-1.3zM104 122h1.3v1.3h-1.3zM104 123h1.3v1.3h-1.3zM104 124h1.3v1.3h-1.3zM104 125h1.3v1.3h-1.3zM104 126h1.3v1.3h-1.3zM104 127h1.3v1.3h-1.3zM104 128h1.3v1.3h-1.3zM104 129h1.3v1.3h-1.3zM104 130h1.3v1.3h-1.3zM104 131h1.3v1.3h-1.3zM104 132h1.3v1.3h-1.3zM104 133h1.3v1.3h-1.3zM104 134h1.3v1.3h-1.3zM104 135h1.3v1.3h-1.3zM104 136h1.3v1.3h-1.3zM104 137h1.3v1.3h-1.3zM104 138h1.3v1.3h-1.3zM104 139h1.3v1.3h-1.3zM105 119h1.3v1.3h-1.3zM105 120h1.3v1.3h-1.3zM105 121h1.3v1.3h-1.3zM105 122h1.3v1.3h-1.3zM105 123h1.3v1.3h-1.3zM105 124h1.3v1.3h-1.3zM105 125h1.3v1.3h-1.3zM105 126h1.3v1.3h-1.3zM105 127h1.3v1.3h-1.3zM105 128h1.3v1.3h-1.3zM105 129h1.3v1.3h-1.3zM105 130h1.3v1.3h-1.3zM105 131h1.3v1.3h-1.3zM105 132h1.3v1.3h-1.3zM105 133h1.3v1.3h-1.3zM105 134h1.3v1.3h-1.3zM105 135h1.3v1.3h-1.3zM105 136h1.3v1.3h-1.3zM105 137h1.3v1.3h-1.3zM105 138h1.3v1.3h-1.3zM105 139h1.3v1.3h-1.3zM106 119h1.3v1.3h-1.3zM106 120h1.3v1.3h-1.3zM106 121h1.3v1.3h-1.3zM106 122h1.3v1.3h-1.3zM106 123h1.3v1.3h-1.3zM106 124h1.3v1.3h-1.3zM106 125h1.3v1.3h-1.3zM106 126h1.3v1.3h-1.3zM106 127h1.3v1.3h-1.3zM106 128h1.3v1.3h-1.3zM106 129h1.3v1.3h-1.3zM106 130h1.3v1.3h-1.3zM106 131h1.3v1.3h-1.3zM106 132h1.3v1.3h-1.3zM106 133h1.3v1.3h-1.3zM106 134h1.3v1.3h-1.3zM106 135h1.3v1.3h-1.3zM106 136h1.3v1.3h-1.3zM106 137h1.3v1.3h-1.3zM106 138h1.3v1.3h-1.3zM106 139h1.3v1.3h-1.3zM107 118h1.3v1.3h-1.3zM107 119h1.3v1.3h-1.3zM107 120h1.3v1.3h-1.3zM107 121h1.3v1.3h-1.3zM107 122h1.3v1.3h-1.3zM107 123h1.3v1.3h-1.3zM107 124h1.3v1.3h-1.3zM107 125h1.3v1.3h-1.3zM107 126h1.3v1.3h-1.3zM107 127h1.3v1.3h-1.3zM107 128h1.3v1.3h-1.3zM107 129h1.3v1.3h-1.3zM107 130h1.3v1.3h-1.3zM107 131h1.3v1.3h-1.3zM107 132h1.3v1.3h-1.3zM107 133h1.3v1.3h-1.3zM107 134h1.3v1.3h-1.3zM107 135h1.3v1.3h-1.3zM107 136h1.3v1.3h-1.3zM107 137h1.3v1.3h-1.3zM107 138h1.3v1.3h-1.3zM107 139h1.3v1.3h-1.3zM107 140h1.3v1.3h-1.3zM108 118h1.3v1.3h-1.3zM108 119h1.3v1.3h-1.3zM108 120h1.3v1.3h-1.3zM108 121h1.3v1.3h-1.3zM108 122h1.3v1.3h-1.3zM108 123h1.3v1.3h-1.3zM108 124h1.3v1.3h-1.3zM108 125h1.3v1.3h-1.3zM108 126h1.3v1.3h-1.3zM108 127h1.3v1.3h-1.3zM108 128h1.3v1.3h-1.3zM108 129h1.3v1.3h-1.3zM108 130h1.3v1.3h-1.3zM108 131h1.3v1.3h-1.3zM108 132h1.3v1.3h-1.3zM108 133h1.3v1.3h-1.3zM108 134h1.3v1.3h-1.3zM108 135h1.3v1.3h-1.3zM108 136h1.3v1.3h-1.3zM108 137h1.3v1.3h-1.3zM108 138h1.3v1.3h-1.3zM108 139h1.3v1.3h-1.3zM108 140h1.3v1.3h-1.3zM109 119h1.3v1.3h-1.3zM109 120h1.3v1.3h-1.3zM109 121h1.3v1.3h-1.3zM109 122h1.3v1.3h-1.3zM109 123h1.3v1.3h-1.3zM109 124h1.3v1.3h-1.3zM109 125h1.3v1.3h-1.3zM109 126h1.3v1.3h-1.3zM109 127h1.3v1.3h-1.3zM109 128h1.3v1.3h-1.3zM109 129h1.3v1.3h-1.3zM109 130h1.3v1.3h-1.3zM109 131h1.3v1.3h-1.3zM109 132h1.3v1.3h-1.3zM109 133h1.3v1.3h-1.3zM109 134h1.3v1.3h-1.3zM109 135h1.3v1.3h-1.3zM109 136h1.3v1.3h-1.3zM109 137h1.3v1.3h-1.3zM109 138h1.3v1.3h-1.3zM109 139h1.3v1.3h-1.3zM110 119h1.3v1.3h-1.3zM110 120h1.3v1.3h-1.3zM110 121h1.3v1.3h-1.3zM110 122h1.3v1.3h-1.3zM110 123h1.3v1.3h-1.3zM110 124h1.3v1.3h-1.3zM110 125h1.3v1.3h-1.3zM110 126h1.3v1.3h-1.3zM110 127h1.3v1.3h-1.3zM110 128h1.3v1.3h-1.3zM110 129h1.3v1.3h-1.3zM110 130h1.3v1.3h-1.3zM110 131h1.3v1.3h-1.3zM110 132h1.3v1.3h-1.3zM110 133h1.3v1.3h-1.3zM110 134h1.3v1.3h-1.3zM110 135h1.3v1.3h-1.3zM110 136h1.3v1.3h-1.3zM110 137h1.3v1.3h-1.3zM110 138h1.3v1.3h-1.3zM110 139h1.3v1.3h-1.3zM111 120h1.3v1.3h-1.3zM111 121h1.3v1.3h-1.3zM111 122h1.3v1.3h-1.3zM111 123h1.3v1.3h-1.3zM111 124h1.3v1.3h-1.3zM111 125h1.3v1.3h-1.3zM111 126h1.3v1.3h-1.3zM111 127h1.3v1.3h-1.3zM111 128h1.3v1.3h-1.3zM111 129h1.3v1.3h-1.3zM111 130h1.3v1.3h-1.3zM111 131h1.3v1.3h-1.3zM111 132h1.3v1.3h-1.3zM111 133h1.3v1.3h-1.3zM111 134h1.3v1.3h-1.3zM111 135h1.3v1.3h-1.3zM111 136h1.3v1.3h-1.3zM111 137h1.3v1.3h-1.3zM111 138h1.3v1.3h-1.3zM112 121h1.3v1.3h-1.3zM112 122h1.3v1.3h-1.3zM112 123h1.3v1.3h-1.3zM112 124h1.3v1.3h-1.3zM112 125h1.3v1.3h-1.3zM112 126h1.3v1.3h-1.3zM112 127h1.3v1.3h-1.3zM112 128h1.3v1.3h-1.3zM112 129h1.3v1.3h-1.3zM112 130h1.3v1.3h-1.3zM112 131h1.3v1.3h-1.3zM112 132h1.3v1.3h-1.3zM112 133h1.3v1.3h-1.3zM112 134h1.3v1.3h-1.3zM112 135h1.3v1.3h-1.3zM112 136h1.3v1.3h-1.3zM112 137h1.3v1.3h-1.3zM113 122h1.3v1.3h-1.3zM113 123h1.3v1.3h-1.3zM113 124h1.3v1.3h-1.3zM113 125h1.3v1.3h-1.3zM113 126h1.3v1.3h-1.3zM113 127h1.3v1.3h-1.3zM113 128h1.3v1.3h-1.3zM113 129h1.3v1.3h-1.3zM113 130h1.3v1.3h-1.3zM113 132h1.3v1.3h-1.3zM113 133h1.3v1.3h-1.3zM113 134h1.3v1.3h-1.3zM113 135h1.3v1.3h-1.3zM114 126h1.3v1.3h-1.3zM114 129h1.3v1.3h-1.3zM114 130h1.3v1.3h-1.3zM114 131h1.3v1.3h-1.3zM114 132h1.3v1.3h-1.3zM114 133h1.3v1.3h-1.3zM114 134h1.3v1.3h-1.3zM115 129h1.3v1.3h-1.3zM115 130h1.3v1.3h-1.3zM115 131h1.3v1.3h-1.3z" fill="#2848f0"/><rect x="95.7" y="117.7" width="1.6" height="1.6" fill="#2848f0"/><rect x="97.7" y="119.2" width="1.6" height="1.6" fill="#2848f0"/><rect x="99.7" y="116.7" width="1.6" height="1.6" fill="#2848f0"/><path d="M111 122h1.3v1.3h-1.3zM111 123h1.3v1.3h-1.3zM111 124h1.3v1.3h-1.3zM112 121h1.3v1.3h-1.3zM112 122h1.3v1.3h-1.3zM112 123h1.3v1.3h-1.3zM112 124h1.3v1.3h-1.3zM112 125h1.3v1.3h-1.3zM112 126h1.3v1.3h-1.3zM112 127h1.3v1.3h-1.3zM112 129h1.3v1.3h-1.3zM113 122h1.3v1.3h-1.3zM113 123h1.3v1.3h-1.3zM113 124h1.3v1.3h-1.3zM113 125h1.3v1.3h-1.3zM113 126h1.3v1.3h-1.3zM113 127h1.3v1.3h-1.3zM113 128h1.3v1.3h-1.3zM113 129h1.3v1.3h-1.3zM114 122h1.3v1.3h-1.3zM114 123h1.3v1.3h-1.3zM114 124h1.3v1.3h-1.3zM114 125h1.3v1.3h-1.3zM114 126h1.3v1.3h-1.3zM114 127h1.3v1.3h-1.3zM114 128h1.3v1.3h-1.3zM114 129h1.3v1.3h-1.3zM114 130h1.3v1.3h-1.3zM115 124h1.3v1.3h-1.3zM115 125h1.3v1.3h-1.3zM115 126h1.3v1.3h-1.3zM115 127h1.3v1.3h-1.3zM115 128h1.3v1.3h-1.3zM115 129h1.3v1.3h-1.3zM115 130h1.3v1.3h-1.3zM115 131h1.3v1.3h-1.3zM116 124h1.3v1.3h-1.3zM116 125h1.3v1.3h-1.3zM116 126h1.3v1.3h-1.3zM116 127h1.3v1.3h-1.3zM116 128h1.3v1.3h-1.3zM116 129h1.3v1.3h-1.3zM116 130h1.3v1.3h-1.3zM116 131h1.3v1.3h-1.3zM116 132h1.3v1.3h-1.3zM117 123h1.3v1.3h-1.3zM117 124h1.3v1.3h-1.3zM117 125h1.3v1.3h-1.3zM117 127h1.3v1.3h-1.3zM117 128h1.3v1.3h-1.3zM117 129h1.3v1.3h-1.3zM117 130h1.3v1.3h-1.3zM117 131h1.3v1.3h-1.3zM117 132h1.3v1.3h-1.3zM118 123h1.3v1.3h-1.3zM118 124h1.3v1.3h-1.3zM118 125h1.3v1.3h-1.3zM118 126h1.3v1.3h-1.3zM118 127h1.3v1.3h-1.3zM118 128h1.3v1.3h-1.3zM118 129h1.3v1.3h-1.3zM118 130h1.3v1.3h-1.3zM118 131h1.3v1.3h-1.3zM118 132h1.3v1.3h-1.3zM119 124h1.3v1.3h-1.3zM119 125h1.3v1.3h-1.3zM119 126h1.3v1.3h-1.3zM119 127h1.3v1.3h-1.3zM119 128h1.3v1.3h-1.3zM119 129h1.3v1.3h-1.3zM119 130h1.3v1.3h-1.3zM119 131h1.3v1.3h-1.3zM119 132h1.3v1.3h-1.3zM120 120h1.3v1.3h-1.3zM120 121h1.3v1.3h-1.3zM120 123h1.3v1.3h-1.3zM120 124h1.3v1.3h-1.3zM120 125h1.3v1.3h-1.3zM120 126h1.3v1.3h-1.3zM120 127h1.3v1.3h-1.3zM120 128h1.3v1.3h-1.3zM120 129h1.3v1.3h-1.3zM120 130h1.3v1.3h-1.3zM120 131h1.3v1.3h-1.3zM120 132h1.3v1.3h-1.3zM121 120h1.3v1.3h-1.3zM121 121h1.3v1.3h-1.3zM121 122h1.3v1.3h-1.3zM121 123h1.3v1.3h-1.3zM121 124h1.3v1.3h-1.3zM121 125h1.3v1.3h-1.3zM121 126h1.3v1.3h-1.3zM121 127h1.3v1.3h-1.3zM121 128h1.3v1.3h-1.3zM121 129h1.3v1.3h-1.3zM121 130h1.3v1.3h-1.3zM121 131h1.3v1.3h-1.3zM121 132h1.3v1.3h-1.3zM122 119h1.3v1.3h-1.3zM122 120h1.3v1.3h-1.3zM122 121h1.3v1.3h-1.3zM122 122h1.3v1.3h-1.3zM122 123h1.3v1.3h-1.3zM122 124h1.3v1.3h-1.3zM122 125h1.3v1.3h-1.3zM122 126h1.3v1.3h-1.3zM122 127h1.3v1.3h-1.3zM122 128h1.3v1.3h-1.3zM122 129h1.3v1.3h-1.3zM122 130h1.3v1.3h-1.3zM122 132h1.3v1.3h-1.3zM123 120h1.3v1.3h-1.3zM123 121h1.3v1.3h-1.3zM123 122h1.3v1.3h-1.3zM123 124h1.3v1.3h-1.3zM123 125h1.3v1.3h-1.3zM123 126h1.3v1.3h-1.3zM123 127h1.3v1.3h-1.3zM123 129h1.3v1.3h-1.3zM123 130h1.3v1.3h-1.3zM123 131h1.3v1.3h-1.3zM123 132h1.3v1.3h-1.3zM124 119h1.3v1.3h-1.3zM124 120h1.3v1.3h-1.3zM124 121h1.3v1.3h-1.3zM124 122h1.3v1.3h-1.3zM124 123h1.3v1.3h-1.3zM124 124h1.3v1.3h-1.3zM124 125h1.3v1.3h-1.3zM124 126h1.3v1.3h-1.3zM124 127h1.3v1.3h-1.3zM124 128h1.3v1.3h-1.3zM124 129h1.3v1.3h-1.3zM124 130h1.3v1.3h-1.3zM124 131h1.3v1.3h-1.3zM125 119h1.3v1.3h-1.3zM125 120h1.3v1.3h-1.3zM125 121h1.3v1.3h-1.3zM125 122h1.3v1.3h-1.3zM125 123h1.3v1.3h-1.3zM125 124h1.3v1.3h-1.3zM125 125h1.3v1.3h-1.3zM125 126h1.3v1.3h-1.3zM125 127h1.3v1.3h-1.3zM125 128h1.3v1.3h-1.3zM125 129h1.3v1.3h-1.3zM125 130h1.3v1.3h-1.3zM125 131h1.3v1.3h-1.3zM126 120h1.3v1.3h-1.3zM126 121h1.3v1.3h-1.3zM126 122h1.3v1.3h-1.3zM126 123h1.3v1.3h-1.3zM126 124h1.3v1.3h-1.3zM126 125h1.3v1.3h-1.3zM126 126h1.3v1.3h-1.3zM126 127h1.3v1.3h-1.3zM126 128h1.3v1.3h-1.3zM126 129h1.3v1.3h-1.3zM127 123h1.3v1.3h-1.3zM127 124h1.3v1.3h-1.3zM127 125h1.3v1.3h-1.3zM127 127h1.3v1.3h-1.3zM127 128h1.3v1.3h-1.3zM128 123h1.3v1.3h-1.3zM128 124h1.3v1.3h-1.3zM128 125h1.3v1.3h-1.3zM129 123h1.3v1.3h-1.3zM129 124h1.3v1.3h-1.3z" fill="#20a0f0"/><path d="M125 125h1.3v1.3h-1.3zM126 123h1.3v1.3h-1.3zM126 125h1.3v1.3h-1.3zM127 124h1.3v1.3h-1.3zM127 125h1.3v1.3h-1.3zM128 121h1.3v1.3h-1.3zM128 122h1.3v1.3h-1.3zM128 124h1.3v1.3h-1.3zM128 125h1.3v1.3h-1.3zM128 129h1.3v1.3h-1.3zM128 131h1.3v1.3h-1.3zM129 121h1.3v1.3h-1.3zM129 127h1.3v1.3h-1.3zM129 128h1.3v1.3h-1.3zM129 129h1.3v1.3h-1.3zM129 130h1.3v1.3h-1.3zM129 131h1.3v1.3h-1.3zM129 132h1.3v1.3h-1.3zM130 120h1.3v1.3h-1.3zM130 121h1.3v1.3h-1.3zM130 122h1.3v1.3h-1.3zM130 123h1.3v1.3h-1.3zM130 124h1.3v1.3h-1.3zM130 126h1.3v1.3h-1.3zM130 127h1.3v1.3h-1.3zM130 128h1.3v1.3h-1.3zM130 130h1.3v1.3h-1.3zM130 131h1.3v1.3h-1.3zM131 120h1.3v1.3h-1.3zM131 122h1.3v1.3h-1.3zM131 123h1.3v1.3h-1.3zM131 124h1.3v1.3h-1.3zM131 125h1.3v1.3h-1.3zM131 126h1.3v1.3h-1.3zM131 127h1.3v1.3h-1.3zM131 128h1.3v1.3h-1.3zM131 130h1.3v1.3h-1.3zM131 131h1.3v1.3h-1.3zM131 132h1.3v1.3h-1.3zM132 119h1.3v1.3h-1.3zM132 120h1.3v1.3h-1.3zM132 122h1.3v1.3h-1.3zM132 124h1.3v1.3h-1.3zM132 125h1.3v1.3h-1.3zM132 126h1.3v1.3h-1.3zM132 127h1.3v1.3h-1.3zM132 128h1.3v1.3h-1.3zM132 129h1.3v1.3h-1.3zM132 130h1.3v1.3h-1.3zM132 131h1.3v1.3h-1.3zM132 132h1.3v1.3h-1.3zM133 118h1.3v1.3h-1.3zM133 119h1.3v1.3h-1.3zM133 120h1.3v1.3h-1.3zM133 122h1.3v1.3h-1.3zM133 123h1.3v1.3h-1.3zM133 125h1.3v1.3h-1.3zM133 126h1.3v1.3h-1.3zM133 127h1.3v1.3h-1.3zM133 128h1.3v1.3h-1.3zM133 129h1.3v1.3h-1.3zM133 130h1.3v1.3h-1.3zM133 131h1.3v1.3h-1.3zM133 132h1.3v1.3h-1.3zM133 133h1.3v1.3h-1.3zM134 119h1.3v1.3h-1.3zM134 120h1.3v1.3h-1.3zM134 121h1.3v1.3h-1.3zM134 122h1.3v1.3h-1.3zM134 126h1.3v1.3h-1.3zM134 127h1.3v1.3h-1.3zM134 128h1.3v1.3h-1.3zM134 129h1.3v1.3h-1.3zM134 130h1.3v1.3h-1.3zM134 131h1.3v1.3h-1.3zM134 132h1.3v1.3h-1.3zM134 133h1.3v1.3h-1.3zM135 119h1.3v1.3h-1.3zM135 120h1.3v1.3h-1.3zM135 121h1.3v1.3h-1.3zM135 122h1.3v1.3h-1.3zM135 124h1.3v1.3h-1.3zM135 125h1.3v1.3h-1.3zM135 126h1.3v1.3h-1.3zM135 127h1.3v1.3h-1.3zM135 128h1.3v1.3h-1.3zM135 129h1.3v1.3h-1.3zM135 130h1.3v1.3h-1.3zM135 131h1.3v1.3h-1.3zM135 133h1.3v1.3h-1.3zM136 119h1.3v1.3h-1.3zM136 120h1.3v1.3h-1.3zM136 121h1.3v1.3h-1.3zM136 122h1.3v1.3h-1.3zM136 124h1.3v1.3h-1.3zM136 125h1.3v1.3h-1.3zM136 126h1.3v1.3h-1.3zM136 127h1.3v1.3h-1.3zM136 128h1.3v1.3h-1.3zM136 129h1.3v1.3h-1.3zM136 130h1.3v1.3h-1.3zM137 120h1.3v1.3h-1.3zM137 121h1.3v1.3h-1.3zM137 122h1.3v1.3h-1.3zM137 123h1.3v1.3h-1.3zM137 124h1.3v1.3h-1.3zM137 125h1.3v1.3h-1.3zM137 126h1.3v1.3h-1.3zM137 127h1.3v1.3h-1.3zM137 128h1.3v1.3h-1.3zM137 129h1.3v1.3h-1.3zM138 121h1.3v1.3h-1.3zM138 122h1.3v1.3h-1.3zM138 123h1.3v1.3h-1.3zM138 124h1.3v1.3h-1.3zM138 125h1.3v1.3h-1.3zM138 126h1.3v1.3h-1.3zM138 128h1.3v1.3h-1.3zM138 129h1.3v1.3h-1.3zM139 121h1.3v1.3h-1.3zM139 122h1.3v1.3h-1.3zM139 123h1.3v1.3h-1.3zM139 124h1.3v1.3h-1.3zM139 125h1.3v1.3h-1.3zM139 126h1.3v1.3h-1.3zM139 128h1.3v1.3h-1.3zM139 129h1.3v1.3h-1.3zM140 124h1.3v1.3h-1.3zM140 126h1.3v1.3h-1.3zM140 127h1.3v1.3h-1.3zM140 128h1.3v1.3h-1.3zM140 129h1.3v1.3h-1.3z" fill="#30e0e0"/><path d="M126 130h1.3v1.3h-1.3zM126 131h1.3v1.3h-1.3zM126 132h1.3v1.3h-1.3zM126 135h1.3v1.3h-1.3zM127 130h1.3v1.3h-1.3zM127 131h1.3v1.3h-1.3zM127 132h1.3v1.3h-1.3zM127 133h1.3v1.3h-1.3zM127 135h1.3v1.3h-1.3zM128 130h1.3v1.3h-1.3zM128 131h1.3v1.3h-1.3zM128 132h1.3v1.3h-1.3zM128 133h1.3v1.3h-1.3zM128 134h1.3v1.3h-1.3zM129 132h1.3v1.3h-1.3zM129 134h1.3v1.3h-1.3zM129 135h1.3v1.3h-1.3zM130 133h1.3v1.3h-1.3zM130 134h1.3v1.3h-1.3zM130 135h1.3v1.3h-1.3z" fill="#30e0e0"/><path d="M142 125h1.3v1.3h-1.3zM142 127h1.3v1.3h-1.3zM142 128h1.3v1.3h-1.3zM142 129h1.3v1.3h-1.3zM143 124h1.3v1.3h-1.3zM143 125h1.3v1.3h-1.3zM143 126h1.3v1.3h-1.3zM143 127h1.3v1.3h-1.3zM143 128h1.3v1.3h-1.3zM143 129h1.3v1.3h-1.3zM144 123h1.3v1.3h-1.3zM144 126h1.3v1.3h-1.3zM144 127h1.3v1.3h-1.3zM144 128h1.3v1.3h-1.3zM144 129h1.3v1.3h-1.3zM144 130h1.3v1.3h-1.3zM145 121h1.3v1.3h-1.3zM145 122h1.3v1.3h-1.3zM145 123h1.3v1.3h-1.3zM145 124h1.3v1.3h-1.3zM145 125h1.3v1.3h-1.3zM145 126h1.3v1.3h-1.3zM145 127h1.3v1.3h-1.3zM145 128h1.3v1.3h-1.3zM145 129h1.3v1.3h-1.3zM146 121h1.3v1.3h-1.3zM146 122h1.3v1.3h-1.3zM146 123h1.3v1.3h-1.3zM146 124h1.3v1.3h-1.3zM146 125h1.3v1.3h-1.3zM146 126h1.3v1.3h-1.3zM146 127h1.3v1.3h-1.3zM147 120h1.3v1.3h-1.3zM147 121h1.3v1.3h-1.3zM147 122h1.3v1.3h-1.3zM147 123h1.3v1.3h-1.3zM147 124h1.3v1.3h-1.3zM147 125h1.3v1.3h-1.3zM147 126h1.3v1.3h-1.3zM147 127h1.3v1.3h-1.3zM148 120h1.3v1.3h-1.3zM148 121h1.3v1.3h-1.3zM148 122h1.3v1.3h-1.3zM148 123h1.3v1.3h-1.3zM148 125h1.3v1.3h-1.3zM148 126h1.3v1.3h-1.3zM148 127h1.3v1.3h-1.3zM148 128h1.3v1.3h-1.3zM149 120h1.3v1.3h-1.3zM149 121h1.3v1.3h-1.3zM149 122h1.3v1.3h-1.3zM149 126h1.3v1.3h-1.3zM149 127h1.3v1.3h-1.3zM149 128h1.3v1.3h-1.3zM149 129h1.3v1.3h-1.3zM149 130h1.3v1.3h-1.3zM150 121h1.3v1.3h-1.3zM150 122h1.3v1.3h-1.3zM150 127h1.3v1.3h-1.3zM150 128h1.3v1.3h-1.3zM150 129h1.3v1.3h-1.3zM150 130h1.3v1.3h-1.3zM151 126h1.3v1.3h-1.3zM151 127h1.3v1.3h-1.3zM151 128h1.3v1.3h-1.3zM151 129h1.3v1.3h-1.3zM151 130h1.3v1.3h-1.3zM152 126h1.3v1.3h-1.3zM152 127h1.3v1.3h-1.3zM152 128h1.3v1.3h-1.3zM152 129h1.3v1.3h-1.3zM152 130h1.3v1.3h-1.3zM152 131h1.3v1.3h-1.3zM153 126h1.3v1.3h-1.3zM153 127h1.3v1.3h-1.3zM153 128h1.3v1.3h-1.3zM153 129h1.3v1.3h-1.3zM153 130h1.3v1.3h-1.3zM153 131h1.3v1.3h-1.3zM154 126h1.3v1.3h-1.3zM154 127h1.3v1.3h-1.3zM154 128h1.3v1.3h-1.3zM154 129h1.3v1.3h-1.3zM154 130h1.3v1.3h-1.3zM154 131h1.3v1.3h-1.3zM155 127h1.3v1.3h-1.3zM155 128h1.3v1.3h-1.3z" fill="#18e018"/><path d="M162 123h1.3v1.3h-1.3zM162 124h1.3v1.3h-1.3zM162 125h1.3v1.3h-1.3zM162 126h1.3v1.3h-1.3zM163 124h1.3v1.3h-1.3zM163 125h1.3v1.3h-1.3zM163 126h1.3v1.3h-1.3zM164 124h1.3v1.3h-1.3zM164 125h1.3v1.3h-1.3zM164 126h1.3v1.3h-1.3zM164 127h1.3v1.3h-1.3zM165 121h1.3v1.3h-1.3zM165 122h1.3v1.3h-1.3zM165 123h1.3v1.3h-1.3zM165 124h1.3v1.3h-1.3zM165 125h1.3v1.3h-1.3zM165 126h1.3v1.3h-1.3zM165 127h1.3v1.3h-1.3zM165 128h1.3v1.3h-1.3zM166 122h1.3v1.3h-1.3zM166 123h1.3v1.3h-1.3zM166 124h1.3v1.3h-1.3zM166 125h1.3v1.3h-1.3zM166 126h1.3v1.3h-1.3zM166 127h1.3v1.3h-1.3zM166 128h1.3v1.3h-1.3zM167 121h1.3v1.3h-1.3zM167 122h1.3v1.3h-1.3zM167 123h1.3v1.3h-1.3zM167 124h1.3v1.3h-1.3zM167 125h1.3v1.3h-1.3zM167 127h1.3v1.3h-1.3zM168 121h1.3v1.3h-1.3zM168 122h1.3v1.3h-1.3zM168 123h1.3v1.3h-1.3zM168 124h1.3v1.3h-1.3zM168 125h1.3v1.3h-1.3zM168 126h1.3v1.3h-1.3zM169 121h1.3v1.3h-1.3zM169 122h1.3v1.3h-1.3zM169 123h1.3v1.3h-1.3zM169 124h1.3v1.3h-1.3zM169 125h1.3v1.3h-1.3zM170 122h1.3v1.3h-1.3zM170 123h1.3v1.3h-1.3zM170 124h1.3v1.3h-1.3zM170 125h1.3v1.3h-1.3zM171 123h1.3v1.3h-1.3zM171 124h1.3v1.3h-1.3z" fill="#f0e020"/><path d="M164 131h1.3v1.3h-1.3zM165 132h1.3v1.3h-1.3zM165 133h1.3v1.3h-1.3zM165 134h1.3v1.3h-1.3zM166 131h1.3v1.3h-1.3zM166 133h1.3v1.3h-1.3zM166 134h1.3v1.3h-1.3zM167 130h1.3v1.3h-1.3zM167 132h1.3v1.3h-1.3zM167 133h1.3v1.3h-1.3zM168 129h1.3v1.3h-1.3zM168 132h1.3v1.3h-1.3zM169 129h1.3v1.3h-1.3zM169 131h1.3v1.3h-1.3zM169 132h1.3v1.3h-1.3zM169 133h1.3v1.3h-1.3zM170 129h1.3v1.3h-1.3zM170 130h1.3v1.3h-1.3zM170 131h1.3v1.3h-1.3zM171 128h1.3v1.3h-1.3zM171 129h1.3v1.3h-1.3zM171 130h1.3v1.3h-1.3zM171 131h1.3v1.3h-1.3zM171 133h1.3v1.3h-1.3zM172 128h1.3v1.3h-1.3zM172 129h1.3v1.3h-1.3zM172 130h1.3v1.3h-1.3zM172 133h1.3v1.3h-1.3zM173 127h1.3v1.3h-1.3zM173 128h1.3v1.3h-1.3zM173 129h1.3v1.3h-1.3zM173 130h1.3v1.3h-1.3zM173 131h1.3v1.3h-1.3zM173 132h1.3v1.3h-1.3zM173 133h1.3v1.3h-1.3zM173 134h1.3v1.3h-1.3zM174 127h1.3v1.3h-1.3zM174 128h1.3v1.3h-1.3zM174 131h1.3v1.3h-1.3zM174 133h1.3v1.3h-1.3zM174 134h1.3v1.3h-1.3zM175 129h1.3v1.3h-1.3zM175 130h1.3v1.3h-1.3zM175 131h1.3v1.3h-1.3zM175 133h1.3v1.3h-1.3zM176 129h1.3v1.3h-1.3zM176 131h1.3v1.3h-1.3zM176 132h1.3v1.3h-1.3z" fill="#e84018"/><path d="M109 134h1.3v1.3h-1.3zM109 135h1.3v1.3h-1.3zM109 136h1.3v1.3h-1.3zM109 137h1.3v1.3h-1.3zM109 138h1.3v1.3h-1.3zM109 139h1.3v1.3h-1.3zM110 133h1.3v1.3h-1.3zM110 134h1.3v1.3h-1.3zM110 135h1.3v1.3h-1.3zM110 136h1.3v1.3h-1.3zM110 137h1.3v1.3h-1.3zM110 138h1.3v1.3h-1.3zM110 139h1.3v1.3h-1.3zM110 140h1.3v1.3h-1.3zM111 133h1.3v1.3h-1.3zM111 134h1.3v1.3h-1.3zM111 135h1.3v1.3h-1.3zM111 136h1.3v1.3h-1.3zM111 137h1.3v1.3h-1.3zM111 138h1.3v1.3h-1.3zM111 139h1.3v1.3h-1.3zM112 135h1.3v1.3h-1.3zM112 136h1.3v1.3h-1.3zM112 137h1.3v1.3h-1.3zM112 138h1.3v1.3h-1.3zM113 136h1.3v1.3h-1.3zM113 137h1.3v1.3h-1.3zM113 138h1.3v1.3h-1.3zM114 136h1.3v1.3h-1.3zM114 137h1.3v1.3h-1.3zM114 138h1.3v1.3h-1.3zM115 136h1.3v1.3h-1.3zM115 137h1.3v1.3h-1.3z" fill="#9020c8"/><rect x="90.2" y="118.2" width="1.5" height="1.5" fill="#8828c8"/><rect x="88.1" y="142.2" width="1.3" height="1.4" fill="#30a8e8"/><rect x="88.1" y="151.8" width="1.5" height="2.6" fill="#30a8e8"/><rect x="86.5" y="110" width="1.4" height="1.4" fill="#8828c8"/><g mask="url(#mB)"><rect x="314" y="95" width="229" height="125" fill="url(#gB)"/><g mask="url(#mUp)"><rect x="314" y="95" width="229" height="125" fill="#fff" filter="url(#nB)" opacity="0.2"/></g><g mask="url(#mCell)"><rect x="314" y="95" width="229" height="125" fill="#fff" filter="url(#nC)" opacity="0.3"/></g><rect x="314" y="95" width="229" height="125" fill="url(#gBr)"/><rect x="314" y="95" width="229" height="125" fill="url(#gBl)"/></g><path d="M376 96.5 Q410 95.5 450 97" stroke="#1a1a1a" stroke-width="1.5" fill="none"/><path d="M542.5 157.8 l1.6 1.8 l-1.6 1.8z" fill="#000"/><rect x="417.6" y="167.5" width="4" height="4" fill="#8020c0"/><rect x="414.7" y="173.7" width="4" height="4" fill="#b0109a"/><rect x="419.8" y="173.7" width="4" height="4" fill="#8020c0"/><rect x="416.2" y="178.8" width="4" height="4" fill="#1040f0"/><rect x="432.5" y="168.6" width="4" height="4" fill="#1050f0"/><rect x="439.2" y="170.7" width="4" height="4" fill="#20c020"/><rect x="445.0" y="167.5" width="4" height="4" fill="#20c040"/><rect x="456.5" y="165.7" width="4" height="4" fill="#60d010"/><rect x="460.8" y="173.7" width="4" height="4" fill="#f06010"/><rect x="464.6" y="175.5" width="4" height="4" fill="#f0e000"/><rect x="447.0" y="178.4" width="4" height="4" fill="#f0e000"/><rect x="444.8" y="183.7" width="4" height="4" fill="#e05010"/><rect x="449.9" y="183.7" width="4" height="4" fill="#e03010"/><rect x="428.5" y="179.8" width="4" height="4" fill="#20b0f0"/><rect x="432.5" y="182.0" width="4" height="4" fill="#20c0f0"/><rect x="437.3" y="181.7" width="4" height="4" fill="#20c030"/><rect x="427.8" y="192.9" width="4" height="4" fill="#1050f0"/><rect x="416.2" y="198.0" width="4" height="4" fill="#7020c0"/><rect x="421.0" y="198.0" width="4" height="4" fill="#1040f0"/><rect x="425.9" y="199.7" width="4" height="4" fill="#10a0f0"/><rect x="425.9" y="207.9" width="4" height="4" fill="#10f0f0"/><path d="M53.0 48.2 H31.9 V69.0" stroke="#d8d8d8" stroke-width="1.1" fill="none"/><path d="M55.5 48.2 l-3.3 -2.2 v4.4z" fill="#e8e8e8"/><path d="M31.9 71.5 l-2.2 -3.3 h4.4z" fill="#e8e8e8"/><path d="M343.4 48.3 H322.3 V69.1" stroke="#d8d8d8" stroke-width="1.1" fill="none"/><path d="M345.9 48.3 l-3.3 -2.2 v4.4z" fill="#e8e8e8"/><path d="M322.3 71.6 l-2.2 -3.3 h4.4z" fill="#e8e8e8"/><text x="58" y="51.1" font-size="8.8" fill="#fff" text-anchor="start" >Caudal</text><text x="348.4" y="51.2" font-size="8.8" fill="#fff" text-anchor="start" >Caudal</text><text x="0" y="0" font-size="9" fill="#fff" transform="translate(30.3,73.6) rotate(90)">Medial</text><text x="0" y="0" font-size="9" fill="#fff" transform="translate(320.6,73.5) rotate(90)">Medial</text><rect x="216" y="48" width="28" height="3.2" fill="#fff"/><rect x="509.6" y="48.3" width="27.4" height="3.2" fill="#fff"/><text x="6" y="16" font-size="16" fill="#000" text-anchor="start" >A</text><text x="296" y="16" font-size="16" fill="#000" text-anchor="start" >B</text><text x="6.5" y="326.7" font-size="16" fill="#000" text-anchor="start" >C</text><text x="296" y="326.7" font-size="16" fill="#000" text-anchor="start" >D</text><text x="101.4" y="36" font-size="16" fill="#000" text-anchor="start" >Neuropil</text><text x="377.2" y="36" font-size="16" fill="#000" text-anchor="start" >PVN cell bodies</text><text x="96" y="231.4" font-size="11.2" fill="#fff" text-anchor="start" >RF centre position</text><rect x="75.00" y="240.5" width="8.18" height="8.6" fill="#b0108a"/><rect x="82.88" y="240.5" width="8.18" height="8.6" fill="#5c1aa8"/><rect x="90.75" y="240.5" width="8.18" height="8.6" fill="#7a18d8"/><rect x="98.62" y="240.5" width="8.18" height="8.6" fill="#8a10f0"/><rect x="106.50" y="240.5" width="8.18" height="8.6" fill="#1040f8"/><rect x="114.38" y="240.5" width="8.18" height="8.6" fill="#10a0f0"/><rect x="122.25" y="240.5" width="8.18" height="8.6" fill="#10f8f8"/><rect x="130.12" y="240.5" width="8.18" height="8.6" fill="#10f070"/><rect x="138.00" y="240.5" width="8.18" height="8.6" fill="#10f010"/><rect x="145.88" y="240.5" width="8.18" height="8.6" fill="#10f010"/><rect x="153.75" y="240.5" width="8.18" height="8.6" fill="#f8f820"/><rect x="161.62" y="240.5" width="8.18" height="8.6" fill="#f8a800"/><rect x="169.50" y="240.5" width="8.18" height="8.6" fill="#f85010"/><rect x="177.38" y="240.5" width="8.18" height="8.6" fill="#f88030"/><rect x="185.25" y="240.5" width="8.18" height="8.6" fill="#e81010"/><rect x="193.12" y="240.5" width="8.18" height="8.6" fill="#f80808"/><text x="37.9" y="248.2" font-size="9.7" fill="#fff" text-anchor="start" >Anterior</text><text x="205" y="248.2" font-size="9.7" fill="#fff" text-anchor="start" >Posterior</text><text x="99.5" y="258.5" font-size="9.7" fill="#fff" text-anchor="middle" >0</text><text x="171.7" y="258.5" font-size="9.7" fill="#fff" text-anchor="middle" >10</text><text x="389.5" y="231.4" font-size="11.2" fill="#fff" text-anchor="start" >RF centre position</text><rect x="368.50" y="240.5" width="8.18" height="8.6" fill="#b0108a"/><rect x="376.38" y="240.5" width="8.18" height="8.6" fill="#5c1aa8"/><rect x="384.25" y="240.5" width="8.18" height="8.6" fill="#7a18d8"/><rect x="392.12" y="240.5" width="8.18" height="8.6" fill="#8a10f0"/><rect x="400.00" y="240.5" width="8.18" height="8.6" fill="#1040f8"/><rect x="407.88" y="240.5" width="8.18" height="8.6" fill="#10a0f0"/><rect x="415.75" y="240.5" width="8.18" height="8.6" fill="#10f8f8"/><rect x="423.62" y="240.5" width="8.18" height="8.6" fill="#10f070"/><rect x="431.50" y="240.5" width="8.18" height="8.6" fill="#10f010"/><rect x="439.38" y="240.5" width="8.18" height="8.6" fill="#10f010"/><rect x="447.25" y="240.5" width="8.18" height="8.6" fill="#f8f820"/><rect x="455.12" y="240.5" width="8.18" height="8.6" fill="#f8a800"/><rect x="463.00" y="240.5" width="8.18" height="8.6" fill="#f85010"/><rect x="470.88" y="240.5" width="8.18" height="8.6" fill="#f88030"/><rect x="478.75" y="240.5" width="8.18" height="8.6" fill="#e81010"/><rect x="486.62" y="240.5" width="8.18" height="8.6" fill="#f80808"/><text x="331.4" y="248.2" font-size="9.7" fill="#fff" text-anchor="start" >Anterior</text><text x="498.5" y="248.2" font-size="9.7" fill="#fff" text-anchor="start" >Posterior</text><text x="393.0" y="258.5" font-size="9.7" fill="#fff" text-anchor="middle" >0</text><text x="465.2" y="258.5" font-size="9.7" fill="#fff" text-anchor="middle" >10</text><g class="pl"><path d="M74.5 332.5 H241.2" stroke="#333" stroke-width="1" fill="none"/><path d="M240.9 332.5 V470" stroke="#777" stroke-width="1.6" fill="none"/><path d="M74.5 332 V470.5 H241.5" stroke="#3a3a3a" stroke-width="1" fill="none"/><path d="M68.5 335.1 H74.5" stroke="#3a3a3a" stroke-width="1"/><text x="66.6" y="338.6" font-size="10.2" fill="#000" text-anchor="end" textLength="10.04" lengthAdjust="spacingAndGlyphs" style="stroke-width:0.08px">15</text><path d="M68.5 368.7 H74.5" stroke="#3a3a3a" stroke-width="1"/><text x="66.6" y="372.2" font-size="10.2" fill="#000" text-anchor="end" textLength="10.04" lengthAdjust="spacingAndGlyphs" style="stroke-width:0.08px">10</text><path d="M68.5 402.1 H74.5" stroke="#3a3a3a" stroke-width="1"/><text x="66.6" y="405.6" font-size="10.2" fill="#000" text-anchor="end" textLength="5.02" lengthAdjust="spacingAndGlyphs" style="stroke-width:0.08px">5</text><path d="M68.5 435.6 H74.5" stroke="#3a3a3a" stroke-width="1"/><text x="66.6" y="439.1" font-size="10.2" fill="#000" text-anchor="end" textLength="5.02" lengthAdjust="spacingAndGlyphs" style="stroke-width:0.08px">0</text><path d="M68.5 468.6 H74.5" stroke="#3a3a3a" stroke-width="1"/><text x="66.6" y="472.1" font-size="10.2" fill="#000" text-anchor="end" textLength="8.03" lengthAdjust="spacingAndGlyphs" style="stroke-width:0.08px">-5</text><path d="M76.6 470 V476" stroke="#3a3a3a" stroke-width="1"/><text x="76.6" y="487.8" font-size="10.2" fill="#000" text-anchor="middle" textLength="5.02" lengthAdjust="spacingAndGlyphs" style="stroke-width:0.08px">0</text><path d="M131.0 470 V476" stroke="#3a3a3a" stroke-width="1"/><text x="131.0" y="487.8" font-size="10.2" fill="#000" text-anchor="middle" textLength="15.06" lengthAdjust="spacingAndGlyphs" style="stroke-width:0.08px">100</text><path d="M185.5 470 V476" stroke="#3a3a3a" stroke-width="1"/><text x="185.5" y="487.8" font-size="10.2" fill="#000" text-anchor="middle" textLength="15.06" lengthAdjust="spacingAndGlyphs" style="stroke-width:0.08px">200</text><path d="M239.9 470 V476" stroke="#3a3a3a" stroke-width="1"/><text x="239.9" y="487.8" font-size="10.2" fill="#000" text-anchor="middle" textLength="15.06" lengthAdjust="spacingAndGlyphs" style="stroke-width:0.08px">300</text><path d="M188.7 394.8h1.5v1.5h-1.5zM156.4 418.6h1.5v1.5h-1.5zM137.8 427.3h1.5v1.5h-1.5zM176.6 401.1h1.5v1.5h-1.5zM158.5 414.7h1.5v1.5h-1.5zM182.3 399.6h1.5v1.5h-1.5zM187.5 391.1h1.5v1.5h-1.5zM150.1 416.0h1.5v1.5h-1.5zM139.8 424.5h1.5v1.5h-1.5zM205.6 369.9h1.5v1.5h-1.5zM178.4 398.8h1.5v1.5h-1.5zM193.7 387.2h1.5v1.5h-1.5zM137.4 423.2h1.5v1.5h-1.5zM160.2 414.0h1.5v1.5h-1.5zM202.5 377.5h1.5v1.5h-1.5zM145.4 422.4h1.5v1.5h-1.5zM205.0 374.5h1.5v1.5h-1.5zM142.1 422.6h1.5v1.5h-1.5zM150.4 418.7h1.5v1.5h-1.5zM208.4 364.6h1.5v1.5h-1.5zM189.1 389.6h1.5v1.5h-1.5zM173.7 403.4h1.5v1.5h-1.5zM146.0 419.8h1.5v1.5h-1.5zM192.1 392.2h1.5v1.5h-1.5zM191.0 392.7h1.5v1.5h-1.5zM206.5 367.6h1.5v1.5h-1.5zM150.5 422.8h1.5v1.5h-1.5zM183.2 400.3h1.5v1.5h-1.5zM189.0 390.9h1.5v1.5h-1.5zM172.2 402.6h1.5v1.5h-1.5zM204.4 373.8h1.5v1.5h-1.5zM164.5 408.0h1.5v1.5h-1.5zM168.6 405.4h1.5v1.5h-1.5zM207.0 364.8h1.5v1.5h-1.5zM182.2 398.2h1.5v1.5h-1.5zM186.0 394.1h1.5v1.5h-1.5zM180.3 402.6h1.5v1.5h-1.5zM149.4 416.0h1.5v1.5h-1.5zM196.3 381.0h1.5v1.5h-1.5zM172.8 402.0h1.5v1.5h-1.5zM188.4 392.7h1.5v1.5h-1.5zM194.6 383.6h1.5v1.5h-1.5zM168.2 407.4h1.5v1.5h-1.5zM206.2 366.2h1.5v1.5h-1.5zM159.5 413.4h1.5v1.5h-1.5zM207.5 364.0h1.5v1.5h-1.5zM204.2 372.1h1.5v1.5h-1.5zM172.8 404.2h1.5v1.5h-1.5zM205.1 369.0h1.5v1.5h-1.5zM181.1 397.8h1.5v1.5h-1.5zM199.9 380.8h1.5v1.5h-1.5zM189.7 391.4h1.5v1.5h-1.5zM169.6 403.3h1.5v1.5h-1.5zM155.3 419.1h1.5v1.5h-1.5zM146.2 421.2h1.5v1.5h-1.5zM186.1 393.5h1.5v1.5h-1.5zM207.5 366.4h1.5v1.5h-1.5zM188.8 389.1h1.5v1.5h-1.5zM171.5 407.6h1.5v1.5h-1.5zM196.4 388.0h1.5v1.5h-1.5zM199.9 379.8h1.5v1.5h-1.5zM206.0 367.5h1.5v1.5h-1.5zM138.5 423.4h1.5v1.5h-1.5zM153.6 415.2h1.5v1.5h-1.5zM186.5 396.4h1.5v1.5h-1.5zM138.9 428.0h1.5v1.5h-1.5zM182.5 399.6h1.5v1.5h-1.5zM186.7 394.4h1.5v1.5h-1.5zM140.9 427.8h1.5v1.5h-1.5zM202.2 374.4h1.5v1.5h-1.5zM163.6 411.8h1.5v1.5h-1.5zM198.6 382.5h1.5v1.5h-1.5zM199.6 381.9h1.5v1.5h-1.5zM203.7 373.4h1.5v1.5h-1.5zM188.9 389.1h1.5v1.5h-1.5zM191.0 392.6h1.5v1.5h-1.5zM199.6 381.1h1.5v1.5h-1.5zM203.7 372.3h1.5v1.5h-1.5zM139.3 423.0h1.5v1.5h-1.5zM184.4 396.0h1.5v1.5h-1.5zM158.0 415.7h1.5v1.5h-1.5zM145.7 419.0h1.5v1.5h-1.5zM191.8 389.4h1.5v1.5h-1.5zM168.0 406.0h1.5v1.5h-1.5zM158.0 414.8h1.5v1.5h-1.5zM144.1 423.4h1.5v1.5h-1.5zM163.4 413.7h1.5v1.5h-1.5zM148.3 417.7h1.5v1.5h-1.5zM144.3 421.1h1.5v1.5h-1.5zM163.5 412.5h1.5v1.5h-1.5zM152.6 420.6h1.5v1.5h-1.5zM167.9 405.0h1.5v1.5h-1.5zM195.1 387.7h1.5v1.5h-1.5zM190.3 386.4h1.5v1.5h-1.5zM180.5 397.4h1.5v1.5h-1.5zM159.9 415.5h1.5v1.5h-1.5zM204.8 369.9h1.5v1.5h-1.5zM199.5 381.4h1.5v1.5h-1.5zM208.5 364.0h1.5v1.5h-1.5zM198.5 382.6h1.5v1.5h-1.5zM153.0 419.9h1.5v1.5h-1.5zM195.4 385.2h1.5v1.5h-1.5zM171.9 407.4h1.5v1.5h-1.5zM182.3 398.5h1.5v1.5h-1.5zM195.0 388.1h1.5v1.5h-1.5zM205.6 367.7h1.5v1.5h-1.5zM196.4 380.5h1.5v1.5h-1.5zM195.0 389.4h1.5v1.5h-1.5zM146.8 424.5h1.5v1.5h-1.5zM147.4 421.7h1.5v1.5h-1.5zM174.5 401.7h1.5v1.5h-1.5zM206.7 371.5h1.5v1.5h-1.5zM142.2 420.0h1.5v1.5h-1.5zM163.2 412.6h1.5v1.5h-1.5zM175.9 406.6h1.5v1.5h-1.5zM204.8 371.0h1.5v1.5h-1.5zM169.8 404.0h1.5v1.5h-1.5zM139.7 422.2h1.5v1.5h-1.5zM151.8 418.4h1.5v1.5h-1.5zM153.2 416.8h1.5v1.5h-1.5zM181.2 399.3h1.5v1.5h-1.5zM188.9 391.9h1.5v1.5h-1.5zM200.3 378.3h1.5v1.5h-1.5zM147.8 423.7h1.5v1.5h-1.5zM205.8 370.0h1.5v1.5h-1.5zM155.1 417.3h1.5v1.5h-1.5zM205.2 369.1h1.5v1.5h-1.5zM186.8 392.7h1.5v1.5h-1.5zM176.1 404.5h1.5v1.5h-1.5zM201.5 378.8h1.5v1.5h-1.5zM203.3 377.2h1.5v1.5h-1.5zM163.2 413.5h1.5v1.5h-1.5zM151.2 419.6h1.5v1.5h-1.5zM165.6 408.3h1.5v1.5h-1.5zM180.7 403.3h1.5v1.5h-1.5zM184.9 394.6h1.5v1.5h-1.5zM200.5 380.7h1.5v1.5h-1.5zM206.3 366.3h1.5v1.5h-1.5zM191.9 387.0h1.5v1.5h-1.5zM192.4 390.1h1.5v1.5h-1.5zM197.2 383.8h1.5v1.5h-1.5zM138.9 425.0h1.5v1.5h-1.5zM170.4 405.8h1.5v1.5h-1.5zM194.9 385.6h1.5v1.5h-1.5zM182.8 393.9h1.5v1.5h-1.5zM175.1 403.8h1.5v1.5h-1.5zM143.2 421.1h1.5v1.5h-1.5zM154.1 416.0h1.5v1.5h-1.5zM175.2 404.7h1.5v1.5h-1.5zM183.6 397.3h1.5v1.5h-1.5zM187.7 394.4h1.5v1.5h-1.5zM189.3 392.2h1.5v1.5h-1.5zM170.6 405.6h1.5v1.5h-1.5zM176.2 402.7h1.5v1.5h-1.5zM165.2 409.2h1.5v1.5h-1.5zM202.7 375.8h1.5v1.5h-1.5zM194.4 389.0h1.5v1.5h-1.5zM184.5 397.1h1.5v1.5h-1.5zM192.4 388.6h1.5v1.5h-1.5zM153.4 417.0h1.5v1.5h-1.5zM172.6 404.2h1.5v1.5h-1.5zM169.5 410.6h1.5v1.5h-1.5zM204.5 371.0h1.5v1.5h-1.5zM205.4 373.8h1.5v1.5h-1.5zM142.7 420.9h1.5v1.5h-1.5zM172.8 407.2h1.5v1.5h-1.5zM176.6 402.0h1.5v1.5h-1.5zM168.8 405.8h1.5v1.5h-1.5zM163.4 412.8h1.5v1.5h-1.5zM141.3 426.3h1.5v1.5h-1.5zM174.2 405.0h1.5v1.5h-1.5zM158.1 414.4h1.5v1.5h-1.5zM189.3 391.9h1.5v1.5h-1.5zM180.9 397.2h1.5v1.5h-1.5zM207.0 364.7h1.5v1.5h-1.5zM158.8 414.1h1.5v1.5h-1.5zM197.5 379.9h1.5v1.5h-1.5zM149.0 422.1h1.5v1.5h-1.5zM177.4 402.5h1.5v1.5h-1.5zM188.3 394.9h1.5v1.5h-1.5zM166.3 409.1h1.5v1.5h-1.5zM177.9 401.0h1.5v1.5h-1.5zM189.6 389.4h1.5v1.5h-1.5zM151.9 421.7h1.5v1.5h-1.5zM138.7 422.7h1.5v1.5h-1.5zM177.0 401.9h1.5v1.5h-1.5zM151.1 421.0h1.5v1.5h-1.5zM152.1 417.7h1.5v1.5h-1.5zM172.3 403.0h1.5v1.5h-1.5zM205.8 370.1h1.5v1.5h-1.5zM141.4 425.1h1.5v1.5h-1.5zM198.8 385.1h1.5v1.5h-1.5zM203.4 371.6h1.5v1.5h-1.5zM138.1 427.6h1.5v1.5h-1.5zM207.0 363.8h1.5v1.5h-1.5zM191.9 392.2h1.5v1.5h-1.5zM188.2 394.1h1.5v1.5h-1.5zM137.5 426.4h1.5v1.5h-1.5zM172.6 406.7h1.5v1.5h-1.5zM165.2 407.7h1.5v1.5h-1.5zM153.5 417.9h1.5v1.5h-1.5zM205.9 370.9h1.5v1.5h-1.5zM191.3 388.3h1.5v1.5h-1.5zM137.0 423.8h1.5v1.5h-1.5zM148.9 421.2h1.5v1.5h-1.5zM155.4 419.7h1.5v1.5h-1.5zM159.8 411.7h1.5v1.5h-1.5zM199.0 378.7h1.5v1.5h-1.5zM140.3 427.1h1.5v1.5h-1.5zM144.5 424.7h1.5v1.5h-1.5zM186.9 394.9h1.5v1.5h-1.5zM176.4 402.0h1.5v1.5h-1.5zM197.3 384.7h1.5v1.5h-1.5zM169.8 408.6h1.5v1.5h-1.5zM169.5 409.8h1.5v1.5h-1.5zM193.6 388.1h1.5v1.5h-1.5zM160.6 415.5h1.5v1.5h-1.5zM175.0 402.4h1.5v1.5h-1.5zM144.3 421.3h1.5v1.5h-1.5zM151.5 418.4h1.5v1.5h-1.5zM155.4 419.5h1.5v1.5h-1.5zM160.0 413.7h1.5v1.5h-1.5zM144.0 425.4h1.5v1.5h-1.5zM143.5 426.2h1.5v1.5h-1.5zM203.6 374.5h1.5v1.5h-1.5zM168.1 405.3h1.5v1.5h-1.5zM160.1 413.9h1.5v1.5h-1.5zM174.3 402.2h1.5v1.5h-1.5zM140.4 422.2h1.5v1.5h-1.5zM143.9 426.3h1.5v1.5h-1.5zM184.9 394.6h1.5v1.5h-1.5zM184.5 397.1h1.5v1.5h-1.5zM199.8 377.5h1.5v1.5h-1.5zM184.7 393.3h1.5v1.5h-1.5zM188.6 390.7h1.5v1.5h-1.5zM183.7 397.3h1.5v1.5h-1.5zM161.0 414.0h1.5v1.5h-1.5zM192.4 385.8h1.5v1.5h-1.5zM201.1 375.6h1.5v1.5h-1.5zM158.2 417.1h1.5v1.5h-1.5zM205.6 369.6h1.5v1.5h-1.5zM152.8 420.6h1.5v1.5h-1.5zM142.8 423.3h1.5v1.5h-1.5zM179.4 398.9h1.5v1.5h-1.5zM149.9 423.4h1.5v1.5h-1.5zM195.7 385.7h1.5v1.5h-1.5zM163.3 408.6h1.5v1.5h-1.5zM204.0 373.7h1.5v1.5h-1.5zM191.0 388.0h1.5v1.5h-1.5zM148.7 416.8h1.5v1.5h-1.5zM155.9 416.6h1.5v1.5h-1.5zM168.0 407.4h1.5v1.5h-1.5zM140.6 426.5h1.5v1.5h-1.5zM159.0 416.1h1.5v1.5h-1.5zM171.1 408.5h1.5v1.5h-1.5zM164.9 410.0h1.5v1.5h-1.5zM149.4 420.8h1.5v1.5h-1.5zM206.3 369.2h1.5v1.5h-1.5zM177.0 405.4h1.5v1.5h-1.5zM193.4 390.6h1.5v1.5h-1.5zM144.7 420.4h1.5v1.5h-1.5zM206.9 370.1h1.5v1.5h-1.5zM186.5 394.3h1.5v1.5h-1.5zM175.2 404.7h1.5v1.5h-1.5zM190.9 386.8h1.5v1.5h-1.5zM200.1 380.7h1.5v1.5h-1.5zM205.6 370.8h1.5v1.5h-1.5zM174.7 406.4h1.5v1.5h-1.5zM168.7 407.1h1.5v1.5h-1.5zM168.6 407.4h1.5v1.5h-1.5zM174.6 403.2h1.5v1.5h-1.5zM149.5 421.8h1.5v1.5h-1.5zM184.2 399.0h1.5v1.5h-1.5zM156.2 414.7h1.5v1.5h-1.5zM163.2 411.1h1.5v1.5h-1.5zM164.7 408.9h1.5v1.5h-1.5zM146.0 423.6h1.5v1.5h-1.5zM162.5 409.5h1.5v1.5h-1.5zM170.5 404.3h1.5v1.5h-1.5zM168.1 409.8h1.5v1.5h-1.5zM149.8 416.5h1.5v1.5h-1.5zM207.0 363.7h1.5v1.5h-1.5zM154.0 416.4h1.5v1.5h-1.5zM186.1 397.4h1.5v1.5h-1.5zM140.5 425.3h1.5v1.5h-1.5zM194.2 386.2h1.5v1.5h-1.5zM136.4 425.7h1.5v1.5h-1.5zM142.8 421.8h1.5v1.5h-1.5zM143.2 426.5h1.5v1.5h-1.5zM174.2 405.7h1.5v1.5h-1.5zM138.9 428.3h1.5v1.5h-1.5zM204.8 369.3h1.5v1.5h-1.5zM163.9 409.4h1.5v1.5h-1.5zM139.0 425.8h1.5v1.5h-1.5zM145.9 425.1h1.5v1.5h-1.5zM166.1 407.5h1.5v1.5h-1.5zM199.7 380.4h1.5v1.5h-1.5zM187.4 391.7h1.5v1.5h-1.5zM185.9 397.9h1.5v1.5h-1.5zM189.5 388.4h1.5v1.5h-1.5zM203.9 370.1h1.5v1.5h-1.5zM192.6 390.0h1.5v1.5h-1.5zM174.4 400.4h1.5v1.5h-1.5zM203.4 374.0h1.5v1.5h-1.5zM203.4 373.3h1.5v1.5h-1.5zM179.4 400.1h1.5v1.5h-1.5zM155.1 417.7h1.5v1.5h-1.5zM203.8 373.1h1.5v1.5h-1.5zM161.6 413.2h1.5v1.5h-1.5zM145.0 426.0h1.5v1.5h-1.5zM185.5 396.0h1.5v1.5h-1.5zM179.9 403.7h1.5v1.5h-1.5zM206.7 368.6h1.5v1.5h-1.5zM189.1 393.5h1.5v1.5h-1.5zM156.2 414.3h1.5v1.5h-1.5zM193.3 387.4h1.5v1.5h-1.5zM207.1 362.2h1.5v1.5h-1.5zM172.7 401.8h1.5v1.5h-1.5zM158.6 415.0h1.5v1.5h-1.5zM169.1 405.9h1.5v1.5h-1.5zM191.4 393.5h1.5v1.5h-1.5zM207.8 365.7h1.5v1.5h-1.5zM202.7 376.8h1.5v1.5h-1.5zM162.8 411.8h1.5v1.5h-1.5zM186.2 391.2h1.5v1.5h-1.5zM200.6 378.4h1.5v1.5h-1.5zM167.1 407.6h1.5v1.5h-1.5zM187.0 394.2h1.5v1.5h-1.5zM207.7 367.6h1.5v1.5h-1.5zM200.4 382.5h1.5v1.5h-1.5zM153.9 419.9h1.5v1.5h-1.5zM188.1 391.0h1.5v1.5h-1.5zM181.1 396.9h1.5v1.5h-1.5zM148.4 423.7h1.5v1.5h-1.5zM149.1 418.2h1.5v1.5h-1.5zM148.1 420.9h1.5v1.5h-1.5zM172.8 403.1h1.5v1.5h-1.5zM191.5 389.4h1.5v1.5h-1.5zM176.2 401.1h1.5v1.5h-1.5zM194.5 388.8h1.5v1.5h-1.5zM170.1 408.8h1.5v1.5h-1.5zM190.7 387.0h1.5v1.5h-1.5zM208.0 361.9h1.5v1.5h-1.5zM206.9 364.3h1.5v1.5h-1.5zM154.6 416.8h1.5v1.5h-1.5zM185.5 392.2h1.5v1.5h-1.5zM200.8 379.3h1.5v1.5h-1.5zM148.7 421.1h1.5v1.5h-1.5zM174.1 404.0h1.5v1.5h-1.5zM179.2 400.6h1.5v1.5h-1.5zM198.3 380.8h1.5v1.5h-1.5zM206.6 362.4h1.5v1.5h-1.5zM171.7 403.3h1.5v1.5h-1.5zM188.7 392.0h1.5v1.5h-1.5zM204.5 373.6h1.5v1.5h-1.5zM161.2 411.9h1.5v1.5h-1.5zM192.9 390.8h1.5v1.5h-1.5zM206.5 369.5h1.5v1.5h-1.5zM186.6 394.2h1.5v1.5h-1.5zM140.9 422.1h1.5v1.5h-1.5zM168.8 408.7h1.5v1.5h-1.5zM201.8 376.8h1.5v1.5h-1.5zM184.3 395.6h1.5v1.5h-1.5zM205.6 367.6h1.5v1.5h-1.5zM190.3 392.9h1.5v1.5h-1.5zM161.7 410.2h1.5v1.5h-1.5zM147.3 420.6h1.5v1.5h-1.5zM149.9 418.2h1.5v1.5h-1.5zM183.3 400.3h1.5v1.5h-1.5zM143.3 427.4h1.5v1.5h-1.5zM175.8 400.3h1.5v1.5h-1.5zM203.1 376.0h1.5v1.5h-1.5zM198.7 377.7h1.5v1.5h-1.5zM195.1 384.8h1.5v1.5h-1.5zM164.0 411.5h1.5v1.5h-1.5zM206.1 367.0h1.5v1.5h-1.5zM167.9 408.7h1.5v1.5h-1.5zM179.8 401.2h1.5v1.5h-1.5zM161.2 412.4h1.5v1.5h-1.5zM203.7 370.6h1.5v1.5h-1.5zM174.1 404.6h1.5v1.5h-1.5zM185.2 394.2h1.5v1.5h-1.5zM170.1 408.2h1.5v1.5h-1.5zM194.4 389.2h1.5v1.5h-1.5zM178.8 400.1h1.5v1.5h-1.5zM147.7 419.1h1.5v1.5h-1.5zM203.3 376.0h1.5v1.5h-1.5zM144.9 419.2h1.5v1.5h-1.5zM207.2 364.4h1.5v1.5h-1.5zM148.1 420.4h1.5v1.5h-1.5zM146.9 418.8h1.5v1.5h-1.5zM171.2 408.4h1.5v1.5h-1.5zM199.5 379.6h1.5v1.5h-1.5zM177.7 398.3h1.5v1.5h-1.5zM179.2 399.4h1.5v1.5h-1.5zM159.9 413.2h1.5v1.5h-1.5zM205.0 367.4h1.5v1.5h-1.5zM142.9 421.1h1.5v1.5h-1.5zM204.7 373.8h1.5v1.5h-1.5zM159.2 413.9h1.5v1.5h-1.5zM207.0 363.4h1.5v1.5h-1.5zM193.9 390.5h1.5v1.5h-1.5zM194.4 388.6h1.5v1.5h-1.5zM168.0 410.0h1.5v1.5h-1.5zM148.7 423.8h1.5v1.5h-1.5zM183.7 400.3h1.5v1.5h-1.5zM160.4 412.0h1.5v1.5h-1.5zM148.5 418.3h1.5v1.5h-1.5zM137.3 425.9h1.5v1.5h-1.5zM191.6 386.8h1.5v1.5h-1.5zM178.8 400.8h1.5v1.5h-1.5zM195.4 385.6h1.5v1.5h-1.5zM141.8 427.3h1.5v1.5h-1.5zM148.0 417.4h1.5v1.5h-1.5zM206.1 367.4h1.5v1.5h-1.5zM183.0 401.1h1.5v1.5h-1.5zM196.6 381.9h1.5v1.5h-1.5zM193.2 383.8h1.5v1.5h-1.5zM198.0 381.5h1.5v1.5h-1.5zM180.2 402.9h1.5v1.5h-1.5zM192.9 389.9h1.5v1.5h-1.5zM176.4 401.7h1.5v1.5h-1.5zM178.1 399.3h1.5v1.5h-1.5zM150.5 418.1h1.5v1.5h-1.5zM203.1 375.8h1.5v1.5h-1.5zM188.2 392.3h1.5v1.5h-1.5zM183.7 398.5h1.5v1.5h-1.5zM207.1 368.2h1.5v1.5h-1.5zM191.5 391.0h1.5v1.5h-1.5zM203.3 375.3h1.5v1.5h-1.5zM159.7 415.2h1.5v1.5h-1.5zM155.4 419.4h1.5v1.5h-1.5zM200.0 377.8h1.5v1.5h-1.5zM191.7 391.7h1.5v1.5h-1.5zM185.8 395.7h1.5v1.5h-1.5zM155.9 416.1h1.5v1.5h-1.5zM196.0 381.3h1.5v1.5h-1.5zM183.3 401.2h1.5v1.5h-1.5zM204.3 374.0h1.5v1.5h-1.5zM159.3 413.6h1.5v1.5h-1.5zM163.5 411.0h1.5v1.5h-1.5zM193.4 389.1h1.5v1.5h-1.5zM169.8 406.1h1.5v1.5h-1.5zM186.8 394.5h1.5v1.5h-1.5zM136.6 423.3h1.5v1.5h-1.5zM170.4 407.9h1.5v1.5h-1.5zM203.8 369.7h1.5v1.5h-1.5zM188.1 396.0h1.5v1.5h-1.5zM148.1 420.8h1.5v1.5h-1.5zM147.9 419.4h1.5v1.5h-1.5zM195.3 385.6h1.5v1.5h-1.5zM199.4 381.1h1.5v1.5h-1.5zM173.6 406.6h1.5v1.5h-1.5zM196.6 382.6h1.5v1.5h-1.5zM200.1 379.0h1.5v1.5h-1.5zM203.0 375.3h1.5v1.5h-1.5zM190.2 390.7h1.5v1.5h-1.5zM188.0 391.6h1.5v1.5h-1.5zM170.0 407.6h1.5v1.5h-1.5zM173.6 402.2h1.5v1.5h-1.5zM191.1 390.2h1.5v1.5h-1.5zM153.8 419.6h1.5v1.5h-1.5zM153.9 417.8h1.5v1.5h-1.5zM157.2 417.7h1.5v1.5h-1.5zM205.4 368.0h1.5v1.5h-1.5zM154.3 419.6h1.5v1.5h-1.5zM195.9 386.2h1.5v1.5h-1.5zM163.1 412.3h1.5v1.5h-1.5zM166.1 407.8h1.5v1.5h-1.5zM179.9 400.7h1.5v1.5h-1.5zM202.2 376.7h1.5v1.5h-1.5zM208.5 363.6h1.5v1.5h-1.5zM144.9 425.8h1.5v1.5h-1.5zM144.5 425.4h1.5v1.5h-1.5zM179.6 399.8h1.5v1.5h-1.5zM166.9 407.1h1.5v1.5h-1.5zM163.1 414.6h1.5v1.5h-1.5zM165.4 412.7h1.5v1.5h-1.5zM149.9 422.6h1.5v1.5h-1.5zM189.5 389.3h1.5v1.5h-1.5zM147.0 420.4h1.5v1.5h-1.5zM170.8 406.0h1.5v1.5h-1.5zM208.2 361.1h1.5v1.5h-1.5zM183.3 394.2h1.5v1.5h-1.5zM206.3 365.8h1.5v1.5h-1.5zM145.5 421.5h1.5v1.5h-1.5zM137.1 423.7h1.5v1.5h-1.5zM197.8 381.6h1.5v1.5h-1.5zM175.9 406.4h1.5v1.5h-1.5zM199.4 379.9h1.5v1.5h-1.5zM158.3 414.0h1.5v1.5h-1.5zM160.1 416.5h1.5v1.5h-1.5zM202.9 374.4h1.5v1.5h-1.5zM169.0 405.3h1.5v1.5h-1.5zM172.6 402.3h1.5v1.5h-1.5zM162.2 414.5h1.5v1.5h-1.5zM188.9 388.7h1.5v1.5h-1.5zM152.2 417.0h1.5v1.5h-1.5zM196.5 384.5h1.5v1.5h-1.5zM139.4 426.9h1.5v1.5h-1.5zM205.6 368.4h1.5v1.5h-1.5zM167.0 411.1h1.5v1.5h-1.5zM166.5 406.7h1.5v1.5h-1.5zM148.4 421.0h1.5v1.5h-1.5zM207.2 362.2h1.5v1.5h-1.5zM199.3 377.1h1.5v1.5h-1.5zM170.6 407.3h1.5v1.5h-1.5zM175.3 406.6h1.5v1.5h-1.5zM177.1 402.9h1.5v1.5h-1.5zM145.6 419.5h1.5v1.5h-1.5zM154.7 417.5h1.5v1.5h-1.5zM165.2 412.8h1.5v1.5h-1.5zM138.0 427.1h1.5v1.5h-1.5zM181.5 397.0h1.5v1.5h-1.5zM181.4 400.8h1.5v1.5h-1.5zM201.6 374.7h1.5v1.5h-1.5zM204.8 373.4h1.5v1.5h-1.5zM203.6 377.3h1.5v1.5h-1.5zM178.7 401.1h1.5v1.5h-1.5zM160.6 413.2h1.5v1.5h-1.5zM198.7 379.9h1.5v1.5h-1.5zM151.4 418.7h1.5v1.5h-1.5zM206.4 368.5h1.5v1.5h-1.5zM195.9 383.8h1.5v1.5h-1.5zM168.4 409.8h1.5v1.5h-1.5zM161.7 412.3h1.5v1.5h-1.5zM165.5 407.8h1.5v1.5h-1.5zM157.2 418.2h1.5v1.5h-1.5zM189.5 390.7h1.5v1.5h-1.5zM203.9 373.7h1.5v1.5h-1.5zM152.2 418.3h1.5v1.5h-1.5zM164.5 409.7h1.5v1.5h-1.5zM175.1 402.9h1.5v1.5h-1.5zM165.3 411.0h1.5v1.5h-1.5zM179.2 403.0h1.5v1.5h-1.5zM180.7 401.5h1.5v1.5h-1.5zM198.2 385.6h1.5v1.5h-1.5zM192.0 387.4h1.5v1.5h-1.5zM193.6 386.0h1.5v1.5h-1.5zM147.3 417.3h1.5v1.5h-1.5zM189.7 392.6h1.5v1.5h-1.5zM148.2 423.0h1.5v1.5h-1.5zM139.2 423.1h1.5v1.5h-1.5zM175.4 403.2h1.5v1.5h-1.5zM166.0 409.7h1.5v1.5h-1.5zM193.3 389.9h1.5v1.5h-1.5zM195.2 382.0h1.5v1.5h-1.5zM206.2 366.0h1.5v1.5h-1.5zM173.6 404.5h1.5v1.5h-1.5zM158.6 414.2h1.5v1.5h-1.5zM198.2 378.1h1.5v1.5h-1.5zM174.5 400.2h1.5v1.5h-1.5zM206.9 364.4h1.5v1.5h-1.5zM167.0 411.1h1.5v1.5h-1.5zM205.9 367.8h1.5v1.5h-1.5zM168.3 408.7h1.5v1.5h-1.5zM198.6 382.4h1.5v1.5h-1.5zM139.4 425.2h1.5v1.5h-1.5zM194.0 387.0h1.5v1.5h-1.5zM202.0 375.0h1.5v1.5h-1.5zM160.6 411.0h1.5v1.5h-1.5zM140.8 425.5h1.5v1.5h-1.5zM150.5 417.3h1.5v1.5h-1.5zM194.1 389.8h1.5v1.5h-1.5zM154.3 419.7h1.5v1.5h-1.5zM159.8 415.2h1.5v1.5h-1.5zM179.4 402.8h1.5v1.5h-1.5zM175.1 402.8h1.5v1.5h-1.5zM175.0 401.1h1.5v1.5h-1.5zM162.4 410.9h1.5v1.5h-1.5zM197.9 379.1h1.5v1.5h-1.5zM180.3 397.3h1.5v1.5h-1.5zM168.5 408.8h1.5v1.5h-1.5zM206.7 364.3h1.5v1.5h-1.5zM175.3 401.8h1.5v1.5h-1.5zM206.6 365.2h1.5v1.5h-1.5zM191.7 388.8h1.5v1.5h-1.5zM206.6 368.5h1.5v1.5h-1.5zM144.8 419.2h1.5v1.5h-1.5zM170.2 409.3h1.5v1.5h-1.5zM205.6 369.6h1.5v1.5h-1.5zM139.8 421.8h1.5v1.5h-1.5zM207.0 364.9h1.5v1.5h-1.5zM154.9 417.6h1.5v1.5h-1.5zM143.2 424.5h1.5v1.5h-1.5zM168.7 409.8h1.5v1.5h-1.5zM164.3 413.2h1.5v1.5h-1.5zM187.6 396.1h1.5v1.5h-1.5zM206.0 365.4h1.5v1.5h-1.5zM203.2 372.7h1.5v1.5h-1.5zM184.8 399.7h1.5v1.5h-1.5zM165.6 406.9h1.5v1.5h-1.5zM165.3 407.9h1.5v1.5h-1.5zM176.9 399.8h1.5v1.5h-1.5zM162.8 410.0h1.5v1.5h-1.5zM205.4 367.0h1.5v1.5h-1.5zM185.8 396.4h1.5v1.5h-1.5zM163.4 410.2h1.5v1.5h-1.5zM161.6 415.0h1.5v1.5h-1.5zM205.1 373.6h1.5v1.5h-1.5zM178.4 400.3h1.5v1.5h-1.5zM207.8 365.7h1.5v1.5h-1.5zM207.2 368.8h1.5v1.5h-1.5zM147.5 423.6h1.5v1.5h-1.5zM201.1 378.1h1.5v1.5h-1.5zM207.2 364.3h1.5v1.5h-1.5zM156.2 416.6h1.5v1.5h-1.5zM195.3 382.9h1.5v1.5h-1.5zM207.7 366.5h1.5v1.5h-1.5zM201.8 378.7h1.5v1.5h-1.5zM166.0 412.2h1.5v1.5h-1.5zM166.8 410.4h1.5v1.5h-1.5zM176.6 401.8h1.5v1.5h-1.5zM196.6 382.6h1.5v1.5h-1.5zM180.9 399.1h1.5v1.5h-1.5zM147.2 425.0h1.5v1.5h-1.5zM139.7 424.9h1.5v1.5h-1.5zM147.3 420.2h1.5v1.5h-1.5zM194.2 386.8h1.5v1.5h-1.5zM141.5 425.7h1.5v1.5h-1.5zM205.3 372.0h1.5v1.5h-1.5zM203.1 373.3h1.5v1.5h-1.5zM165.5 408.5h1.5v1.5h-1.5zM166.2 411.9h1.5v1.5h-1.5zM173.5 403.4h1.5v1.5h-1.5zM167.5 408.3h1.5v1.5h-1.5zM186.8 395.2h1.5v1.5h-1.5zM205.0 371.7h1.5v1.5h-1.5zM192.5 391.6h1.5v1.5h-1.5zM177.9 402.7h1.5v1.5h-1.5zM200.6 381.4h1.5v1.5h-1.5zM144.5 424.4h1.5v1.5h-1.5zM205.4 370.4h1.5v1.5h-1.5zM170.2 407.1h1.5v1.5h-1.5zM205.6 372.2h1.5v1.5h-1.5zM206.3 370.6h1.5v1.5h-1.5zM176.0 401.4h1.5v1.5h-1.5zM176.6 399.5h1.5v1.5h-1.5zM161.2 414.7h1.5v1.5h-1.5zM160.9 412.3h1.5v1.5h-1.5zM163.5 412.8h1.5v1.5h-1.5zM204.1 371.7h1.5v1.5h-1.5zM196.6 383.3h1.5v1.5h-1.5zM198.5 381.5h1.5v1.5h-1.5zM205.6 368.2h1.5v1.5h-1.5zM197.3 383.2h1.5v1.5h-1.5zM179.0 402.7h1.5v1.5h-1.5zM196.4 382.8h1.5v1.5h-1.5zM200.0 382.3h1.5v1.5h-1.5zM180.3 400.3h1.5v1.5h-1.5zM151.8 416.8h1.5v1.5h-1.5zM151.0 416.1h1.5v1.5h-1.5zM175.9 403.5h1.5v1.5h-1.5zM207.5 365.0h1.5v1.5h-1.5zM204.4 373.3h1.5v1.5h-1.5zM161.8 415.9h1.5v1.5h-1.5zM186.5 396.7h1.5v1.5h-1.5zM163.2 408.5h1.5v1.5h-1.5zM158.1 414.1h1.5v1.5h-1.5zM206.9 366.2h1.5v1.5h-1.5zM185.1 398.2h1.5v1.5h-1.5zM169.9 409.3h1.5v1.5h-1.5zM147.1 418.8h1.5v1.5h-1.5zM177.9 402.8h1.5v1.5h-1.5zM183.6 398.3h1.5v1.5h-1.5zM187.8 389.9h1.5v1.5h-1.5zM154.2 418.5h1.5v1.5h-1.5zM200.1 382.8h1.5v1.5h-1.5zM168.7 407.7h1.5v1.5h-1.5zM182.0 398.8h1.5v1.5h-1.5zM192.2 390.1h1.5v1.5h-1.5zM166.9 406.5h1.5v1.5h-1.5zM177.4 403.7h1.5v1.5h-1.5zM147.6 424.6h1.5v1.5h-1.5zM163.8 409.6h1.5v1.5h-1.5zM155.1 419.0h1.5v1.5h-1.5zM139.7 428.0h1.5v1.5h-1.5zM183.3 395.2h1.5v1.5h-1.5zM153.4 420.6h1.5v1.5h-1.5zM137.2 426.5h1.5v1.5h-1.5zM137.7 426.7h1.5v1.5h-1.5zM192.0 392.0h1.5v1.5h-1.5zM156.0 414.9h1.5v1.5h-1.5zM190.7 389.3h1.5v1.5h-1.5zM197.7 383.5h1.5v1.5h-1.5zM196.4 383.0h1.5v1.5h-1.5zM192.7 386.1h1.5v1.5h-1.5zM173.3 401.1h1.5v1.5h-1.5zM190.1 390.1h1.5v1.5h-1.5zM169.3 406.8h1.5v1.5h-1.5zM184.7 392.5h1.5v1.5h-1.5zM205.0 369.8h1.5v1.5h-1.5zM195.8 386.6h1.5v1.5h-1.5zM162.7 415.0h1.5v1.5h-1.5zM145.7 417.8h1.5v1.5h-1.5zM202.1 373.3h1.5v1.5h-1.5zM196.1 381.5h1.5v1.5h-1.5zM180.5 398.1h1.5v1.5h-1.5zM178.2 401.5h1.5v1.5h-1.5zM178.7 398.0h1.5v1.5h-1.5zM203.8 377.8h1.5v1.5h-1.5zM185.4 396.2h1.5v1.5h-1.5zM196.5 384.9h1.5v1.5h-1.5zM176.3 400.5h1.5v1.5h-1.5zM140.1 422.8h1.5v1.5h-1.5zM202.3 376.7h1.5v1.5h-1.5zM175.6 403.6h1.5v1.5h-1.5zM203.3 375.5h1.5v1.5h-1.5zM168.4 408.4h1.5v1.5h-1.5zM178.7 399.9h1.5v1.5h-1.5zM193.7 388.3h1.5v1.5h-1.5zM159.5 413.6h1.5v1.5h-1.5zM176.6 403.5h1.5v1.5h-1.5zM196.6 387.1h1.5v1.5h-1.5zM169.0 409.4h1.5v1.5h-1.5zM191.3 390.8h1.5v1.5h-1.5zM195.4 382.7h1.5v1.5h-1.5zM158.5 416.9h1.5v1.5h-1.5zM150.6 418.5h1.5v1.5h-1.5zM207.9 362.4h1.5v1.5h-1.5zM169.2 405.8h1.5v1.5h-1.5zM188.6 395.5h1.5v1.5h-1.5zM168.6 407.0h1.5v1.5h-1.5zM206.0 366.1h1.5v1.5h-1.5zM203.7 376.1h1.5v1.5h-1.5zM201.8 376.6h1.5v1.5h-1.5zM167.2 410.6h1.5v1.5h-1.5zM151.3 417.6h1.5v1.5h-1.5zM153.4 418.7h1.5v1.5h-1.5zM162.2 410.8h1.5v1.5h-1.5zM164.6 407.8h1.5v1.5h-1.5zM176.4 398.6h1.5v1.5h-1.5zM162.5 415.4h1.5v1.5h-1.5zM202.8 377.4h1.5v1.5h-1.5zM174.5 403.4h1.5v1.5h-1.5zM205.9 368.8h1.5v1.5h-1.5zM142.3 427.3h1.5v1.5h-1.5zM181.0 400.4h1.5v1.5h-1.5zM192.4 386.8h1.5v1.5h-1.5zM158.9 412.4h1.5v1.5h-1.5zM158.7 411.7h1.5v1.5h-1.5zM195.0 384.8h1.5v1.5h-1.5zM186.8 396.1h1.5v1.5h-1.5zM193.3 386.9h1.5v1.5h-1.5zM208.8 365.2h1.5v1.5h-1.5zM192.6 391.8h1.5v1.5h-1.5zM189.8 390.1h1.5v1.5h-1.5zM206.4 363.8h1.5v1.5h-1.5zM146.2 423.5h1.5v1.5h-1.5zM142.8 421.3h1.5v1.5h-1.5zM201.4 374.7h1.5v1.5h-1.5zM203.6 376.5h1.5v1.5h-1.5zM207.7 363.7h1.5v1.5h-1.5zM197.3 385.5h1.5v1.5h-1.5zM142.7 425.3h1.5v1.5h-1.5zM187.4 390.3h1.5v1.5h-1.5zM181.1 400.5h1.5v1.5h-1.5zM165.3 407.3h1.5v1.5h-1.5zM179.7 403.1h1.5v1.5h-1.5zM183.4 400.4h1.5v1.5h-1.5zM193.3 391.3h1.5v1.5h-1.5zM169.4 406.0h1.5v1.5h-1.5zM207.0 364.7h1.5v1.5h-1.5zM161.6 413.4h1.5v1.5h-1.5zM140.3 421.7h1.5v1.5h-1.5zM197.0 384.5h1.5v1.5h-1.5zM165.7 413.1h1.5v1.5h-1.5zM179.7 401.8h1.5v1.5h-1.5zM201.1 375.3h1.5v1.5h-1.5zM176.5 399.4h1.5v1.5h-1.5zM205.8 369.2h1.5v1.5h-1.5zM148.7 420.4h1.5v1.5h-1.5zM152.6 421.6h1.5v1.5h-1.5zM205.1 369.1h1.5v1.5h-1.5zM162.9 410.0h1.5v1.5h-1.5zM188.3 390.0h1.5v1.5h-1.5zM195.4 387.7h1.5v1.5h-1.5zM199.1 382.2h1.5v1.5h-1.5zM202.3 378.7h1.5v1.5h-1.5zM204.4 370.4h1.5v1.5h-1.5zM169.7 404.7h1.5v1.5h-1.5zM203.5 371.9h1.5v1.5h-1.5zM196.2 381.3h1.5v1.5h-1.5zM207.4 364.9h1.5v1.5h-1.5zM148.7 423.7h1.5v1.5h-1.5zM198.7 381.9h1.5v1.5h-1.5zM169.3 406.2h1.5v1.5h-1.5zM148.1 419.0h1.5v1.5h-1.5zM203.4 376.0h1.5v1.5h-1.5zM197.6 382.9h1.5v1.5h-1.5zM205.8 371.1h1.5v1.5h-1.5zM198.1 385.1h1.5v1.5h-1.5zM162.7 411.7h1.5v1.5h-1.5zM175.3 401.2h1.5v1.5h-1.5zM138.2 426.4h1.5v1.5h-1.5zM201.9 374.8h1.5v1.5h-1.5zM187.0 394.6h1.5v1.5h-1.5zM154.3 420.4h1.5v1.5h-1.5zM203.4 373.7h1.5v1.5h-1.5zM160.2 416.0h1.5v1.5h-1.5zM202.8 374.3h1.5v1.5h-1.5zM157.2 418.0h1.5v1.5h-1.5zM169.0 407.8h1.5v1.5h-1.5zM183.4 395.0h1.5v1.5h-1.5zM160.1 414.1h1.5v1.5h-1.5zM145.4 419.3h1.5v1.5h-1.5zM174.2 401.5h1.5v1.5h-1.5zM171.9 406.0h1.5v1.5h-1.5zM204.4 369.9h1.5v1.5h-1.5zM201.0 378.3h1.5v1.5h-1.5zM149.9 420.5h1.5v1.5h-1.5zM199.1 378.0h1.5v1.5h-1.5zM201.5 378.2h1.5v1.5h-1.5zM202.9 378.2h1.5v1.5h-1.5zM204.5 372.4h1.5v1.5h-1.5zM180.5 400.9h1.5v1.5h-1.5zM204.4 373.6h1.5v1.5h-1.5zM192.8 390.8h1.5v1.5h-1.5zM177.1 398.7h1.5v1.5h-1.5zM197.1 381.3h1.5v1.5h-1.5zM154.9 417.2h1.5v1.5h-1.5zM200.0 380.8h1.5v1.5h-1.5zM158.4 417.2h1.5v1.5h-1.5zM206.3 370.3h1.5v1.5h-1.5zM194.5 386.5h1.5v1.5h-1.5zM167.7 407.1h1.5v1.5h-1.5zM172.9 401.7h1.5v1.5h-1.5zM170.3 407.3h1.5v1.5h-1.5zM199.2 380.0h1.5v1.5h-1.5zM187.7 392.7h1.5v1.5h-1.5zM202.7 374.2h1.5v1.5h-1.5zM138.5 427.6h1.5v1.5h-1.5zM187.8 394.7h1.5v1.5h-1.5zM205.7 370.6h1.5v1.5h-1.5zM191.2 391.2h1.5v1.5h-1.5zM158.8 416.1h1.5v1.5h-1.5zM172.6 401.8h1.5v1.5h-1.5zM146.3 424.7h1.5v1.5h-1.5zM188.4 389.6h1.5v1.5h-1.5zM204.6 372.9h1.5v1.5h-1.5zM172.8 403.0h1.5v1.5h-1.5zM192.1 390.2h1.5v1.5h-1.5zM159.5 412.5h1.5v1.5h-1.5zM202.3 374.3h1.5v1.5h-1.5zM158.5 415.6h1.5v1.5h-1.5zM202.7 376.2h1.5v1.5h-1.5zM203.6 370.7h1.5v1.5h-1.5zM208.2 366.9h1.5v1.5h-1.5zM158.9 412.3h1.5v1.5h-1.5zM173.5 407.4h1.5v1.5h-1.5zM188.1 391.9h1.5v1.5h-1.5zM151.1 420.3h1.5v1.5h-1.5zM194.7 385.3h1.5v1.5h-1.5zM154.0 417.1h1.5v1.5h-1.5zM180.6 400.5h1.5v1.5h-1.5zM206.3 369.0h1.5v1.5h-1.5zM202.0 380.2h1.5v1.5h-1.5zM183.2 397.6h1.5v1.5h-1.5zM145.8 422.9h1.5v1.5h-1.5zM169.6 406.7h1.5v1.5h-1.5zM154.2 415.2h1.5v1.5h-1.5zM191.2 389.2h1.5v1.5h-1.5zM206.4 369.8h1.5v1.5h-1.5zM197.0 379.8h1.5v1.5h-1.5zM168.8 406.8h1.5v1.5h-1.5zM206.4 364.8h1.5v1.5h-1.5zM204.6 371.8h1.5v1.5h-1.5zM206.2 370.5h1.5v1.5h-1.5zM171.2 404.6h1.5v1.5h-1.5zM181.4 402.5h1.5v1.5h-1.5zM141.9 421.8h1.5v1.5h-1.5zM187.2 394.0h1.5v1.5h-1.5zM187.4 390.2h1.5v1.5h-1.5zM159.0 414.1h1.5v1.5h-1.5zM207.3 365.7h1.5v1.5h-1.5zM137.3 424.3h1.5v1.5h-1.5zM174.6 404.4h1.5v1.5h-1.5zM177.0 400.6h1.5v1.5h-1.5zM207.3 366.8h1.5v1.5h-1.5zM176.3 400.9h1.5v1.5h-1.5zM168.4 410.5h1.5v1.5h-1.5zM164.3 407.7h1.5v1.5h-1.5zM204.7 370.8h1.5v1.5h-1.5zM187.0 395.5h1.5v1.5h-1.5zM149.7 417.8h1.5v1.5h-1.5zM138.6 424.9h1.5v1.5h-1.5zM148.5 423.8h1.5v1.5h-1.5zM200.7 376.4h1.5v1.5h-1.5zM180.1 402.0h1.5v1.5h-1.5zM207.4 364.4h1.5v1.5h-1.5zM184.7 395.6h1.5v1.5h-1.5zM144.4 420.5h1.5v1.5h-1.5zM163.3 413.2h1.5v1.5h-1.5zM145.1 424.3h1.5v1.5h-1.5zM192.1 391.0h1.5v1.5h-1.5zM191.9 391.9h1.5v1.5h-1.5zM144.9 424.7h1.5v1.5h-1.5zM154.0 416.5h1.5v1.5h-1.5zM174.2 405.6h1.5v1.5h-1.5zM174.7 405.8h1.5v1.5h-1.5zM191.2 393.2h1.5v1.5h-1.5zM194.4 389.2h1.5v1.5h-1.5zM205.5 372.5h1.5v1.5h-1.5zM201.2 376.2h1.5v1.5h-1.5zM186.5 396.2h1.5v1.5h-1.5zM195.1 385.5h1.5v1.5h-1.5zM176.9 401.9h1.5v1.5h-1.5zM201.4 376.0h1.5v1.5h-1.5zM160.2 413.0h1.5v1.5h-1.5zM150.4 422.3h1.5v1.5h-1.5zM145.7 418.1h1.5v1.5h-1.5zM206.9 369.4h1.5v1.5h-1.5zM162.2 410.4h1.5v1.5h-1.5zM192.8 390.8h1.5v1.5h-1.5zM183.1 394.5h1.5v1.5h-1.5zM190.6 389.6h1.5v1.5h-1.5zM164.8 412.6h1.5v1.5h-1.5zM181.4 399.5h1.5v1.5h-1.5zM184.9 398.3h1.5v1.5h-1.5zM177.6 399.0h1.5v1.5h-1.5zM163.7 410.2h1.5v1.5h-1.5zM201.5 376.8h1.5v1.5h-1.5zM145.9 423.2h1.5v1.5h-1.5zM160.9 412.5h1.5v1.5h-1.5zM141.7 422.0h1.5v1.5h-1.5zM186.5 391.0h1.5v1.5h-1.5zM138.0 424.4h1.5v1.5h-1.5zM174.0 406.8h1.5v1.5h-1.5zM207.5 362.7h1.5v1.5h-1.5zM149.1 422.7h1.5v1.5h-1.5zM143.9 422.0h1.5v1.5h-1.5zM171.3 404.3h1.5v1.5h-1.5zM156.4 415.9h1.5v1.5h-1.5zM174.1 404.7h1.5v1.5h-1.5zM206.2 368.4h1.5v1.5h-1.5zM169.0 408.9h1.5v1.5h-1.5zM169.7 407.1h1.5v1.5h-1.5zM146.2 418.3h1.5v1.5h-1.5zM157.5 419.2h1.5v1.5h-1.5zM208.1 360.3h1.5v1.5h-1.5zM180.8 398.8h1.5v1.5h-1.5zM198.6 382.7h1.5v1.5h-1.5zM188.7 394.4h1.5v1.5h-1.5zM205.5 371.3h1.5v1.5h-1.5zM204.2 374.7h1.5v1.5h-1.5zM198.5 382.0h1.5v1.5h-1.5zM142.4 423.4h1.5v1.5h-1.5zM143.6 421.4h1.5v1.5h-1.5zM202.8 374.1h1.5v1.5h-1.5zM199.5 376.5h1.5v1.5h-1.5zM157.0 415.0h1.5v1.5h-1.5zM157.7 415.0h1.5v1.5h-1.5zM160.6 414.7h1.5v1.5h-1.5zM140.4 423.3h1.5v1.5h-1.5zM203.7 372.4h1.5v1.5h-1.5zM153.6 419.8h1.5v1.5h-1.5zM141.0 425.4h1.5v1.5h-1.5zM156.5 415.6h1.5v1.5h-1.5zM198.3 380.4h1.5v1.5h-1.5zM179.3 402.8h1.5v1.5h-1.5zM183.2 397.4h1.5v1.5h-1.5zM167.4 408.7h1.5v1.5h-1.5zM171.9 407.6h1.5v1.5h-1.5zM145.0 423.5h1.5v1.5h-1.5zM174.2 403.7h1.5v1.5h-1.5zM149.2 416.6h1.5v1.5h-1.5zM144.0 425.1h1.5v1.5h-1.5zM154.9 420.4h1.5v1.5h-1.5zM201.3 378.7h1.5v1.5h-1.5zM185.4 396.0h1.5v1.5h-1.5zM174.9 401.0h1.5v1.5h-1.5zM142.0 425.6h1.5v1.5h-1.5zM183.4 399.8h1.5v1.5h-1.5zM141.0 425.7h1.5v1.5h-1.5zM183.4 399.7h1.5v1.5h-1.5zM137.1 425.5h1.5v1.5h-1.5zM162.2 412.5h1.5v1.5h-1.5zM139.7 425.8h1.5v1.5h-1.5zM143.9 422.2h1.5v1.5h-1.5zM191.8 391.8h1.5v1.5h-1.5zM148.1 420.9h1.5v1.5h-1.5zM154.5 417.8h1.5v1.5h-1.5zM143.2 423.5h1.5v1.5h-1.5zM201.2 381.1h1.5v1.5h-1.5zM204.7 371.9h1.5v1.5h-1.5zM147.7 417.8h1.5v1.5h-1.5zM203.9 373.5h1.5v1.5h-1.5zM190.1 388.9h1.5v1.5h-1.5zM206.2 368.7h1.5v1.5h-1.5zM164.6 409.8h1.5v1.5h-1.5zM147.0 423.1h1.5v1.5h-1.5zM194.7 385.9h1.5v1.5h-1.5zM137.7 426.1h1.5v1.5h-1.5zM174.7 402.1h1.5v1.5h-1.5zM201.4 381.4h1.5v1.5h-1.5zM206.7 371.4h1.5v1.5h-1.5zM170.6 408.9h1.5v1.5h-1.5zM185.6 391.8h1.5v1.5h-1.5zM186.8 394.0h1.5v1.5h-1.5zM167.8 408.3h1.5v1.5h-1.5zM195.4 384.4h1.5v1.5h-1.5zM205.2 376.0h1.5v1.5h-1.5zM173.0 404.8h1.5v1.5h-1.5zM175.0 403.4h1.5v1.5h-1.5zM194.0 385.2h1.5v1.5h-1.5zM172.8 404.0h1.5v1.5h-1.5zM178.6 398.3h1.5v1.5h-1.5zM170.1 405.3h1.5v1.5h-1.5zM200.9 373.9h1.5v1.5h-1.5zM169.3 407.1h1.5v1.5h-1.5zM190.5 390.7h1.5v1.5h-1.5zM181.8 397.5h1.5v1.5h-1.5zM137.3 425.9h1.5v1.5h-1.5zM208.0 365.9h1.5v1.5h-1.5zM208.0 361.3h1.5v1.5h-1.5zM182.4 394.7h1.5v1.5h-1.5zM193.8 389.7h1.5v1.5h-1.5zM149.2 422.3h1.5v1.5h-1.5zM159.5 415.5h1.5v1.5h-1.5zM163.1 413.3h1.5v1.5h-1.5zM150.5 418.6h1.5v1.5h-1.5zM204.8 370.7h1.5v1.5h-1.5zM205.9 365.4h1.5v1.5h-1.5zM157.4 417.4h1.5v1.5h-1.5zM202.5 375.7h1.5v1.5h-1.5zM188.9 391.1h1.5v1.5h-1.5zM138.8 428.0h1.5v1.5h-1.5zM136.7 422.8h1.5v1.5h-1.5zM204.5 373.2h1.5v1.5h-1.5zM193.9 388.7h1.5v1.5h-1.5zM175.3 401.7h1.5v1.5h-1.5zM136.8 424.0h1.5v1.5h-1.5zM160.7 412.7h1.5v1.5h-1.5zM145.9 422.1h1.5v1.5h-1.5zM141.1 424.8h1.5v1.5h-1.5zM162.3 415.0h1.5v1.5h-1.5zM179.6 397.2h1.5v1.5h-1.5zM156.9 416.4h1.5v1.5h-1.5zM152.6 420.3h1.5v1.5h-1.5zM186.5 391.0h1.5v1.5h-1.5zM171.0 403.1h1.5v1.5h-1.5zM190.0 388.8h1.5v1.5h-1.5zM205.2 375.7h1.5v1.5h-1.5zM187.9 393.4h1.5v1.5h-1.5zM190.0 387.9h1.5v1.5h-1.5zM204.2 373.0h1.5v1.5h-1.5zM195.6 383.2h1.5v1.5h-1.5zM205.8 369.2h1.5v1.5h-1.5zM204.2 371.6h1.5v1.5h-1.5zM203.5 375.9h1.5v1.5h-1.5zM201.4 376.2h1.5v1.5h-1.5zM156.0 418.8h1.5v1.5h-1.5zM157.4 414.8h1.5v1.5h-1.5zM148.6 420.1h1.5v1.5h-1.5zM188.5 390.5h1.5v1.5h-1.5zM147.2 418.7h1.5v1.5h-1.5zM206.0 370.5h1.5v1.5h-1.5zM199.3 379.4h1.5v1.5h-1.5zM170.2 407.9h1.5v1.5h-1.5zM201.5 382.1h1.5v1.5h-1.5zM191.0 389.4h1.5v1.5h-1.5zM157.4 417.9h1.5v1.5h-1.5zM199.7 382.0h1.5v1.5h-1.5zM200.3 381.3h1.5v1.5h-1.5zM151.3 415.8h1.5v1.5h-1.5zM207.2 363.6h1.5v1.5h-1.5zM197.0 379.1h1.5v1.5h-1.5zM184.4 397.6h1.5v1.5h-1.5zM204.9 371.0h1.5v1.5h-1.5zM182.8 393.9h1.5v1.5h-1.5zM147.8 418.0h1.5v1.5h-1.5zM157.3 418.4h1.5v1.5h-1.5zM175.4 404.9h1.5v1.5h-1.5zM192.1 386.1h1.5v1.5h-1.5zM204.1 372.2h1.5v1.5h-1.5zM178.9 402.0h1.5v1.5h-1.5zM162.7 413.3h1.5v1.5h-1.5zM202.7 373.5h1.5v1.5h-1.5zM137.8 424.8h1.5v1.5h-1.5zM173.6 402.0h1.5v1.5h-1.5zM176.7 404.9h1.5v1.5h-1.5zM151.7 420.8h1.5v1.5h-1.5zM169.5 407.6h1.5v1.5h-1.5zM175.6 404.9h1.5v1.5h-1.5zM154.9 414.8h1.5v1.5h-1.5zM138.0 424.1h1.5v1.5h-1.5zM173.3 404.8h1.5v1.5h-1.5zM205.5 369.8h1.5v1.5h-1.5zM161.7 411.0h1.5v1.5h-1.5zM170.0 402.9h1.5v1.5h-1.5zM196.8 381.2h1.5v1.5h-1.5zM158.9 413.8h1.5v1.5h-1.5zM201.8 376.8h1.5v1.5h-1.5zM199.6 376.6h1.5v1.5h-1.5zM172.4 408.3h1.5v1.5h-1.5zM163.7 413.8h1.5v1.5h-1.5zM172.7 402.2h1.5v1.5h-1.5zM170.5 408.9h1.5v1.5h-1.5zM182.5 394.6h1.5v1.5h-1.5zM173.1 405.0h1.5v1.5h-1.5zM196.2 383.2h1.5v1.5h-1.5zM167.9 410.6h1.5v1.5h-1.5zM144.8 420.8h1.5v1.5h-1.5zM195.6 383.0h1.5v1.5h-1.5zM196.9 383.7h1.5v1.5h-1.5zM189.5 389.3h1.5v1.5h-1.5zM196.6 382.2h1.5v1.5h-1.5zM147.2 422.3h1.5v1.5h-1.5zM167.0 410.0h1.5v1.5h-1.5zM206.4 371.3h1.5v1.5h-1.5zM206.4 367.1h1.5v1.5h-1.5zM153.0 416.5h1.5v1.5h-1.5zM197.1 385.4h1.5v1.5h-1.5zM192.1 391.6h1.5v1.5h-1.5zM174.0 402.1h1.5v1.5h-1.5zM144.3 425.3h1.5v1.5h-1.5zM196.8 384.8h1.5v1.5h-1.5zM195.3 384.4h1.5v1.5h-1.5zM202.1 378.2h1.5v1.5h-1.5zM199.5 382.2h1.5v1.5h-1.5zM206.6 363.3h1.5v1.5h-1.5zM168.8 404.5h1.5v1.5h-1.5zM140.8 426.7h1.5v1.5h-1.5zM204.4 372.6h1.5v1.5h-1.5zM180.6 396.4h1.5v1.5h-1.5zM180.8 402.0h1.5v1.5h-1.5zM152.2 416.9h1.5v1.5h-1.5zM181.4 395.8h1.5v1.5h-1.5zM205.7 369.5h1.5v1.5h-1.5zM136.7 426.6h1.5v1.5h-1.5zM203.7 371.0h1.5v1.5h-1.5zM200.3 376.0h1.5v1.5h-1.5zM144.9 422.6h1.5v1.5h-1.5zM196.1 380.5h1.5v1.5h-1.5zM206.4 370.6h1.5v1.5h-1.5zM198.0 380.5h1.5v1.5h-1.5zM205.7 370.2h1.5v1.5h-1.5zM193.8 388.9h1.5v1.5h-1.5zM188.3 394.9h1.5v1.5h-1.5zM170.3 409.0h1.5v1.5h-1.5zM203.7 374.0h1.5v1.5h-1.5zM140.8 427.6h1.5v1.5h-1.5zM160.5 410.8h1.5v1.5h-1.5zM169.5 405.6h1.5v1.5h-1.5zM200.5 376.7h1.5v1.5h-1.5zM192.8 386.2h1.5v1.5h-1.5zM167.0 411.6h1.5v1.5h-1.5zM197.7 379.5h1.5v1.5h-1.5zM208.0 363.1h1.5v1.5h-1.5zM165.7 409.3h1.5v1.5h-1.5zM178.5 397.2h1.5v1.5h-1.5zM190.5 386.4h1.5v1.5h-1.5zM148.9 422.6h1.5v1.5h-1.5zM194.1 382.9h1.5v1.5h-1.5zM159.6 414.7h1.5v1.5h-1.5zM179.2 394.1h1.5v1.5h-1.5zM148.2 423.6h1.5v1.5h-1.5zM175.1 400.7h1.5v1.5h-1.5zM174.5 400.8h1.5v1.5h-1.5zM152.9 416.6h1.5v1.5h-1.5zM145.9 426.5h1.5v1.5h-1.5zM180.2 395.1h1.5v1.5h-1.5zM141.2 428.1h1.5v1.5h-1.5zM155.5 417.5h1.5v1.5h-1.5zM199.1 374.8h1.5v1.5h-1.5zM199.5 377.5h1.5v1.5h-1.5zM188.4 385.3h1.5v1.5h-1.5zM152.8 416.8h1.5v1.5h-1.5zM146.6 424.4h1.5v1.5h-1.5zM155.5 418.2h1.5v1.5h-1.5zM148.9 420.6h1.5v1.5h-1.5zM148.3 421.3h1.5v1.5h-1.5zM150.8 422.1h1.5v1.5h-1.5zM153.7 415.9h1.5v1.5h-1.5zM146.0 423.7h1.5v1.5h-1.5zM159.5 410.8h1.5v1.5h-1.5zM188.8 387.8h1.5v1.5h-1.5zM173.1 402.4h1.5v1.5h-1.5zM166.5 408.7h1.5v1.5h-1.5zM184.3 390.5h1.5v1.5h-1.5zM157.7 416.7h1.5v1.5h-1.5zM201.0 377.1h1.5v1.5h-1.5zM161.3 413.4h1.5v1.5h-1.5zM164.9 409.0h1.5v1.5h-1.5zM174.7 400.4h1.5v1.5h-1.5zM156.2 414.9h1.5v1.5h-1.5zM158.1 415.4h1.5v1.5h-1.5zM171.9 403.1h1.5v1.5h-1.5zM187.2 389.7h1.5v1.5h-1.5zM161.0 412.5h1.5v1.5h-1.5zM156.8 414.1h1.5v1.5h-1.5zM163.0 410.6h1.5v1.5h-1.5zM170.5 401.7h1.5v1.5h-1.5zM154.2 416.5h1.5v1.5h-1.5zM201.6 376.1h1.5v1.5h-1.5zM151.0 419.6h1.5v1.5h-1.5zM160.3 413.8h1.5v1.5h-1.5zM145.1 426.0h1.5v1.5h-1.5zM200.9 373.7h1.5v1.5h-1.5zM178.3 396.7h1.5v1.5h-1.5zM203.5 372.7h1.5v1.5h-1.5zM202.2 373.7h1.5v1.5h-1.5zM185.3 389.0h1.5v1.5h-1.5zM148.2 424.8h1.5v1.5h-1.5zM144.3 424.8h1.5v1.5h-1.5zM204.6 371.9h1.5v1.5h-1.5zM150.1 423.4h1.5v1.5h-1.5zM169.0 405.3h1.5v1.5h-1.5zM152.7 421.1h1.5v1.5h-1.5zM182.1 391.4h1.5v1.5h-1.5zM144.1 428.3h1.5v1.5h-1.5zM159.5 413.2h1.5v1.5h-1.5zM179.3 395.9h1.5v1.5h-1.5zM196.3 380.5h1.5v1.5h-1.5zM159.7 411.8h1.5v1.5h-1.5zM194.7 379.3h1.5v1.5h-1.5zM151.0 422.4h1.5v1.5h-1.5zM170.1 401.2h1.5v1.5h-1.5zM180.3 393.9h1.5v1.5h-1.5zM161.2 409.0h1.5v1.5h-1.5zM210.1 362.0h1.5v1.5h-1.5zM209.6 368.2h1.5v1.5h-1.5zM206.8 357.7h1.5v1.5h-1.5zM208.7 372.5h1.5v1.5h-1.5zM208.7 355.1h1.5v1.5h-1.5zM208.8 368.1h1.5v1.5h-1.5zM205.3 362.2h1.5v1.5h-1.5zM208.7 364.5h1.5v1.5h-1.5zM207.9 362.5h1.5v1.5h-1.5zM209.6 370.1h1.5v1.5h-1.5zM208.7 360.2h1.5v1.5h-1.5zM207.6 365.4h1.5v1.5h-1.5zM207.0 372.1h1.5v1.5h-1.5zM208.0 350.8h1.5v1.5h-1.5zM208.8 368.7h1.5v1.5h-1.5zM208.3 354.7h1.5v1.5h-1.5zM206.4 357.0h1.5v1.5h-1.5zM210.7 367.6h1.5v1.5h-1.5zM209.6 358.5h1.5v1.5h-1.5zM208.5 351.3h1.5v1.5h-1.5zM208.7 362.5h1.5v1.5h-1.5zM209.2 364.7h1.5v1.5h-1.5zM208.7 362.4h1.5v1.5h-1.5zM208.1 372.0h1.5v1.5h-1.5zM210.0 356.7h1.5v1.5h-1.5zM208.2 363.5h1.5v1.5h-1.5zM208.0 359.0h1.5v1.5h-1.5zM208.5 359.4h1.5v1.5h-1.5zM208.3 358.3h1.5v1.5h-1.5zM208.6 355.3h1.5v1.5h-1.5zM213.2 360.8h1.5v1.5h-1.5zM207.7 365.7h1.5v1.5h-1.5zM209.1 364.2h1.5v1.5h-1.5zM209.7 371.4h1.5v1.5h-1.5zM206.4 368.1h1.5v1.5h-1.5zM208.0 357.9h1.5v1.5h-1.5zM206.3 364.4h1.5v1.5h-1.5zM207.4 370.0h1.5v1.5h-1.5zM206.3 360.6h1.5v1.5h-1.5zM208.7 350.1h1.5v1.5h-1.5zM207.6 372.8h1.5v1.5h-1.5zM209.9 350.9h1.5v1.5h-1.5zM208.0 356.6h1.5v1.5h-1.5zM207.9 358.8h1.5v1.5h-1.5zM207.6 360.9h1.5v1.5h-1.5zM207.2 350.7h1.5v1.5h-1.5zM209.9 371.8h1.5v1.5h-1.5zM206.5 371.7h1.5v1.5h-1.5zM210.1 364.0h1.5v1.5h-1.5zM208.1 350.2h1.5v1.5h-1.5zM206.6 359.0h1.5v1.5h-1.5zM208.5 355.4h1.5v1.5h-1.5zM207.5 355.8h1.5v1.5h-1.5zM207.4 355.8h1.5v1.5h-1.5zM210.2 360.1h1.5v1.5h-1.5zM209.3 349.1h1.5v1.5h-1.5zM204.4 358.8h1.5v1.5h-1.5zM208.1 348.2h1.5v1.5h-1.5zM208.1 350.5h1.5v1.5h-1.5zM207.7 358.3h1.5v1.5h-1.5zM210.6 365.4h1.5v1.5h-1.5zM207.1 357.0h1.5v1.5h-1.5zM207.2 359.3h1.5v1.5h-1.5zM208.6 350.1h1.5v1.5h-1.5zM210.0 359.9h1.5v1.5h-1.5zM206.3 365.4h1.5v1.5h-1.5zM208.1 365.8h1.5v1.5h-1.5zM207.9 360.0h1.5v1.5h-1.5zM209.3 353.1h1.5v1.5h-1.5zM211.6 362.4h1.5v1.5h-1.5zM209.5 367.4h1.5v1.5h-1.5zM207.7 352.0h1.5v1.5h-1.5zM207.3 348.4h1.5v1.5h-1.5zM204.7 354.6h1.5v1.5h-1.5zM208.5 360.4h1.5v1.5h-1.5zM209.6 358.9h1.5v1.5h-1.5zM209.3 371.8h1.5v1.5h-1.5zM207.6 353.9h1.5v1.5h-1.5zM210.7 358.3h1.5v1.5h-1.5zM206.7 360.6h1.5v1.5h-1.5zM209.9 370.7h1.5v1.5h-1.5zM209.1 368.5h1.5v1.5h-1.5zM207.5 370.1h1.5v1.5h-1.5zM209.9 352.4h1.5v1.5h-1.5zM206.8 354.2h1.5v1.5h-1.5zM207.1 365.4h1.5v1.5h-1.5zM208.9 364.7h1.5v1.5h-1.5zM211.1 349.5h1.5v1.5h-1.5zM209.7 352.9h1.5v1.5h-1.5zM207.5 358.6h1.5v1.5h-1.5zM210.8 353.1h1.5v1.5h-1.5zM212.0 358.1h1.5v1.5h-1.5zM208.8 359.7h1.5v1.5h-1.5zM208.5 367.0h1.5v1.5h-1.5zM206.9 356.9h1.5v1.5h-1.5zM206.9 355.3h1.5v1.5h-1.5zM206.4 357.0h1.5v1.5h-1.5zM207.0 359.8h1.5v1.5h-1.5zM206.1 369.7h1.5v1.5h-1.5zM207.9 350.4h1.5v1.5h-1.5zM207.3 354.4h1.5v1.5h-1.5zM207.8 360.0h1.5v1.5h-1.5zM209.0 351.8h1.5v1.5h-1.5zM206.8 358.7h1.5v1.5h-1.5zM207.3 359.7h1.5v1.5h-1.5zM208.5 358.7h1.5v1.5h-1.5zM211.9 356.6h1.5v1.5h-1.5zM209.6 354.2h1.5v1.5h-1.5zM205.5 356.6h1.5v1.5h-1.5zM209.3 369.2h1.5v1.5h-1.5zM209.1 357.0h1.5v1.5h-1.5zM207.9 368.7h1.5v1.5h-1.5zM204.4 364.7h1.5v1.5h-1.5zM207.1 357.8h1.5v1.5h-1.5zM208.8 363.2h1.5v1.5h-1.5zM211.1 357.2h1.5v1.5h-1.5zM209.8 372.1h1.5v1.5h-1.5zM207.9 349.8h1.5v1.5h-1.5zM207.9 371.6h1.5v1.5h-1.5zM209.2 364.1h1.5v1.5h-1.5zM198.2 365.4h1.5v1.5h-1.5zM198.7 366.3h1.5v1.5h-1.5zM200.2 366.2h1.5v1.5h-1.5zM199.5 361.6h1.5v1.5h-1.5zM199.1 363.2h1.5v1.5h-1.5zM199.0 362.6h1.5v1.5h-1.5zM201.3 364.5h1.5v1.5h-1.5zM203.0 365.0h1.5v1.5h-1.5zM201.2 366.7h1.5v1.5h-1.5zM203.1 365.7h1.5v1.5h-1.5zM198.2 364.7h1.5v1.5h-1.5zM198.2 365.8h1.5v1.5h-1.5zM198.4 365.3h1.5v1.5h-1.5zM198.9 367.8h1.5v1.5h-1.5zM198.6 366.3h1.5v1.5h-1.5zM202.2 363.2h1.5v1.5h-1.5zM201.6 363.6h1.5v1.5h-1.5zM199.6 363.1h1.5v1.5h-1.5zM198.1 366.4h1.5v1.5h-1.5zM198.4 362.6h1.5v1.5h-1.5zM198.5 367.4h1.5v1.5h-1.5zM201.2 364.7h1.5v1.5h-1.5zM201.5 367.5h1.5v1.5h-1.5zM201.7 365.1h1.5v1.5h-1.5zM199.9 365.1h1.5v1.5h-1.5zM203.9 365.6h1.5v1.5h-1.5zM200.9 368.1h1.5v1.5h-1.5zM198.3 361.5h1.5v1.5h-1.5zM202.7 368.5h1.5v1.5h-1.5zM198.3 361.2h1.5v1.5h-1.5zM198.1 365.6h1.5v1.5h-1.5zM198.8 365.5h1.5v1.5h-1.5zM202.0 361.1h1.5v1.5h-1.5zM203.2 363.0h1.5v1.5h-1.5zM201.3 363.8h1.5v1.5h-1.5zM200.1 364.2h1.5v1.5h-1.5zM198.0 364.4h1.5v1.5h-1.5zM199.6 363.9h1.5v1.5h-1.5zM199.0 363.7h1.5v1.5h-1.5zM202.2 368.9h1.5v1.5h-1.5zM199.9 359.3h1.5v1.5h-1.5zM210.4 337.8h1.5v1.5h-1.5zM195.4 359.8h1.5v1.5h-1.5zM200.9 338.0h1.5v1.5h-1.5zM211.4 354.8h1.5v1.5h-1.5zM217.4 349.0h1.5v1.5h-1.5zM202.8 343.9h1.5v1.5h-1.5zM200.1 352.8h1.5v1.5h-1.5zM218.6 337.4h1.5v1.5h-1.5zM204.7 344.9h1.5v1.5h-1.5zM197.0 351.7h1.5v1.5h-1.5zM219.6 342.7h1.5v1.5h-1.5zM213.2 360.2h1.5v1.5h-1.5zM201.8 360.7h1.5v1.5h-1.5zM213.7 353.1h1.5v1.5h-1.5zM199.9 342.8h1.5v1.5h-1.5zM197.5 360.1h1.5v1.5h-1.5zM215.2 337.4h1.5v1.5h-1.5zM208.3 341.0h1.5v1.5h-1.5zM214.1 351.0h1.5v1.5h-1.5zM218.6 355.4h1.5v1.5h-1.5zM197.5 345.4h1.5v1.5h-1.5zM209.4 360.5h1.5v1.5h-1.5zM204.3 340.3h1.5v1.5h-1.5zM202.1 341.9h1.5v1.5h-1.5zM198.9 344.6h1.5v1.5h-1.5zM201.2 349.3h1.5v1.5h-1.5zM217.4 361.7h1.5v1.5h-1.5zM199.0 350.9h1.5v1.5h-1.5zM211.8 339.3h1.5v1.5h-1.5zM208.3 340.6h1.5v1.5h-1.5zM204.1 344.1h1.5v1.5h-1.5zM205.4 336.9h1.5v1.5h-1.5zM206.2 338.3h1.5v1.5h-1.5zM205.7 339.7h1.5v1.5h-1.5zM205.5 337.3h1.5v1.5h-1.5zM205.6 338.0h1.5v1.5h-1.5zM206.8 336.6h1.5v1.5h-1.5zM131.9 412.1h1.5v1.5h-1.5zM132.1 412.3h1.5v1.5h-1.5zM131.6 411.4h1.5v1.5h-1.5zM131.6 411.5h1.5v1.5h-1.5zM131.5 416.3h1.5v1.5h-1.5zM132.0 416.4h1.5v1.5h-1.5zM131.8 417.3h1.5v1.5h-1.5zM131.4 417.1h1.5v1.5h-1.5zM133.3 420.2h1.5v1.5h-1.5zM132.0 420.9h1.5v1.5h-1.5zM131.5 419.8h1.5v1.5h-1.5zM132.6 419.8h1.5v1.5h-1.5zM132.2 420.9h1.5v1.5h-1.5zM132.2 421.7h1.5v1.5h-1.5zM132.9 420.6h1.5v1.5h-1.5zM131.9 420.7h1.5v1.5h-1.5zM132.4 421.0h1.5v1.5h-1.5zM131.4 421.0h1.5v1.5h-1.5zM144.1 418.4h1.5v1.5h-1.5zM144.2 416.9h1.5v1.5h-1.5zM145.8 419.0h1.5v1.5h-1.5zM145.5 417.3h1.5v1.5h-1.5zM144.8 418.0h1.5v1.5h-1.5zM145.9 417.1h1.5v1.5h-1.5zM146.8 417.0h1.5v1.5h-1.5zM143.8 417.4h1.5v1.5h-1.5zM146.2 418.6h1.5v1.5h-1.5zM146.6 418.5h1.5v1.5h-1.5zM145.9 418.1h1.5v1.5h-1.5zM146.1 419.3h1.5v1.5h-1.5zM151.0 438.7h1.5v1.5h-1.5zM148.6 429.5h1.5v1.5h-1.5zM150.1 432.0h1.5v1.5h-1.5zM152.7 431.2h1.5v1.5h-1.5zM147.3 434.5h1.5v1.5h-1.5zM148.6 437.2h1.5v1.5h-1.5zM148.5 429.5h1.5v1.5h-1.5zM148.0 429.5h1.5v1.5h-1.5zM151.2 429.2h1.5v1.5h-1.5zM147.3 433.0h1.5v1.5h-1.5zM152.1 427.7h1.5v1.5h-1.5zM150.0 427.4h1.5v1.5h-1.5zM147.1 430.3h1.5v1.5h-1.5zM149.0 437.1h1.5v1.5h-1.5zM147.1 433.8h1.5v1.5h-1.5zM152.1 430.8h1.5v1.5h-1.5zM150.5 428.9h1.5v1.5h-1.5zM148.8 427.3h1.5v1.5h-1.5zM153.3 427.1h1.5v1.5h-1.5zM148.0 434.9h1.5v1.5h-1.5zM150.2 432.0h1.5v1.5h-1.5zM149.1 428.1h1.5v1.5h-1.5zM152.6 427.8h1.5v1.5h-1.5zM149.1 435.3h1.5v1.5h-1.5zM139.6 458.3h1.5v1.5h-1.5zM136.9 443.9h1.5v1.5h-1.5zM144.8 443.1h1.5v1.5h-1.5zM150.0 430.7h1.5v1.5h-1.5zM145.0 452.6h1.5v1.5h-1.5zM134.1 444.5h1.5v1.5h-1.5zM142.7 440.1h1.5v1.5h-1.5zM144.8 447.1h1.5v1.5h-1.5zM148.5 456.4h1.5v1.5h-1.5zM147.4 460.0h1.5v1.5h-1.5zM147.6 436.2h1.5v1.5h-1.5zM136.2 431.3h1.5v1.5h-1.5zM138.9 432.3h1.5v1.5h-1.5zM148.0 449.2h1.5v1.5h-1.5zM146.5 439.5h1.5v1.5h-1.5zM143.2 435.9h1.5v1.5h-1.5zM149.4 438.3h1.5v1.5h-1.5zM151.4 449.5h1.5v1.5h-1.5zM151.0 455.1h1.5v1.5h-1.5zM151.8 445.4h1.5v1.5h-1.5zM152.0 443.6h1.5v1.5h-1.5zM148.7 443.6h1.5v1.5h-1.5zM148.5 449.6h1.5v1.5h-1.5zM149.2 454.9h1.5v1.5h-1.5zM152.0 452.4h1.5v1.5h-1.5zM150.4 454.2h1.5v1.5h-1.5zM147.9 449.4h1.5v1.5h-1.5zM149.7 442.0h1.5v1.5h-1.5zM147.7 440.2h1.5v1.5h-1.5zM153.0 442.5h1.5v1.5h-1.5zM154.8 397.4h1.5v1.5h-1.5zM147.0 459.7h1.5v1.5h-1.5zM152.2 458.3h1.5v1.5h-1.5zM134.8 453.0h1.5v1.5h-1.5zM133.9 445.2h1.5v1.5h-1.5zM133.9 447.0h1.5v1.5h-1.5z" fill="#14146e"/><path d="M131.4 441.1 L220.1 360.5" stroke="#ee1f78" stroke-width="1.2"/><text x="87.3" y="357.7" font-size="8" fill="#000" text-anchor="start" >c = 0.94</text><text x="87.3" y="366.5" font-size="8" fill="#000" text-anchor="start" >slope = 0.074 ± 0.00058</text><text x="96.5" y="508.2" font-size="10.4" fill="#000" text-anchor="start" >Relative voxel position (px)</text><text x="0" y="0" font-size="10" fill="#000" text-anchor="middle" transform="translate(43.5,401.1) rotate(-90)">Relative RF centre position</text><path d="M361.4 333.5 H534.6" stroke="#333" stroke-width="1" fill="none"/><path d="M534.2 333.5 V470" stroke="#777" stroke-width="1.6" fill="none"/><path d="M361.4 333 V470.3 H535.5" stroke="#3a3a3a" stroke-width="1" fill="none"/><path d="M356 334.9 H361.4" stroke="#3a3a3a" stroke-width="1"/><text x="353.1" y="338.4" font-size="10.2" fill="#000" text-anchor="end" textLength="10.04" lengthAdjust="spacingAndGlyphs" style="stroke-width:0.08px">15</text><path d="M356 379.9 H361.4" stroke="#3a3a3a" stroke-width="1"/><text x="353.1" y="383.4" font-size="10.2" fill="#000" text-anchor="end" textLength="10.04" lengthAdjust="spacingAndGlyphs" style="stroke-width:0.08px">10</text><path d="M356 424.9 H361.4" stroke="#3a3a3a" stroke-width="1"/><text x="353.1" y="428.4" font-size="10.2" fill="#000" text-anchor="end" textLength="5.02" lengthAdjust="spacingAndGlyphs" style="stroke-width:0.08px">5</text><path d="M356 469.8 H361.4" stroke="#3a3a3a" stroke-width="1"/><text x="353.1" y="473.3" font-size="10.2" fill="#000" text-anchor="end" textLength="5.02" lengthAdjust="spacingAndGlyphs" style="stroke-width:0.08px">0</text><path d="M362.4 470 V475.5" stroke="#3a3a3a" stroke-width="1"/><text x="362.4" y="487.7" font-size="10.2" fill="#000" text-anchor="middle" textLength="5.02" lengthAdjust="spacingAndGlyphs" style="stroke-width:0.08px">0</text><path d="M419.4 470 V475.5" stroke="#3a3a3a" stroke-width="1"/><text x="419.4" y="487.7" font-size="10.2" fill="#000" text-anchor="middle" textLength="15.06" lengthAdjust="spacingAndGlyphs" style="stroke-width:0.08px">100</text><path d="M476.5 470 V475.5" stroke="#3a3a3a" stroke-width="1"/><text x="476.5" y="487.7" font-size="10.2" fill="#000" text-anchor="middle" textLength="15.06" lengthAdjust="spacingAndGlyphs" style="stroke-width:0.08px">200</text><path d="M533.5 470 V475.5" stroke="#3a3a3a" stroke-width="1"/><text x="533.5" y="487.7" font-size="10.2" fill="#000" text-anchor="middle" textLength="15.06" lengthAdjust="spacingAndGlyphs" style="stroke-width:0.08px">300</text><path d="M485.0 339.2h2.1v2.1h-2.1zM479.0 368.6h2.1v2.1h-2.1zM494.6 367.9h2.1v2.1h-2.1zM496.0 377.6h2.1v2.1h-2.1zM479.0 383.4h2.1v2.1h-2.1zM472.4 386.8h2.1v2.1h-2.1zM490.4 396.0h2.1v2.1h-2.1zM491.6 396.0h2.1v2.1h-2.1zM479.3 401.1h2.1v2.1h-2.1zM475.7 398.0h2.1v2.1h-2.1zM476.8 407.1h2.1v2.1h-2.1zM462.2 412.7h2.1v2.1h-2.1zM462.2 415.8h2.1v2.1h-2.1zM464.9 415.8h2.1v2.1h-2.1zM467.5 420.2h2.1v2.1h-2.1zM452.8 425.3h2.1v2.1h-2.1zM457.1 425.3h2.1v2.1h-2.1zM463.0 425.8h2.1v2.1h-2.1zM467.5 428.1h2.1v2.1h-2.1zM455.6 433.4h2.1v2.1h-2.1zM454.8 436.2h2.1v2.1h-2.1zM455.6 443.1h2.1v2.1h-2.1zM456.2 443.8h2.1v2.1h-2.1zM452.0 461.7h2.1v2.1h-2.1z" fill="#14146e"/><path d="M452.9 441.6 L497.3 361.9" stroke="#ee1f78" stroke-width="1.2"/><text x="369.1" y="357" font-size="8" fill="#000" text-anchor="start" >c = 0.845097</text><text x="369.1" y="365.8" font-size="8" fill="#000" text-anchor="start" >slope =0.11 ± 0.016</text><text x="382.1" y="507.8" font-size="10.3" fill="#000" text-anchor="start" >Relative position of cell body (px)</text><text x="0" y="0" font-size="9.8" fill="#000" text-anchor="middle" transform="translate(331,398.9) rotate(-90)">Relative RF centre position</text></g>
</svg></body></html>
